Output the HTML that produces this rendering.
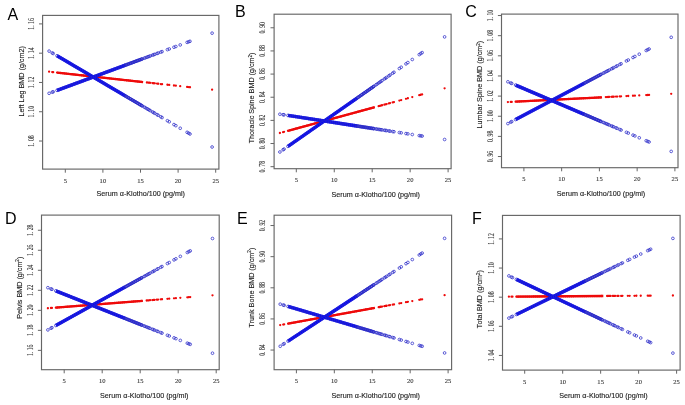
<!DOCTYPE html>
<html><head><meta charset="utf-8"><style>
html,body{margin:0;padding:0;background:#fff;width:685px;height:405px;overflow:hidden}
svg{display:block;filter:blur(0.4px)}
.t{font-family:"Liberation Serif", serif;font-size:7.2px;fill:#333;stroke:#333;stroke-width:.1px;white-space:pre}
.th{font-size:6.1px}
.ti{font-family:"Liberation Sans", sans-serif;font-size:7.2px;fill:#1a1a1a;stroke:#1a1a1a;stroke-width:.12px}
.L{font-family:"Liberation Sans", sans-serif;font-size:16px;fill:#000}
</style></head><body>
<svg width="685" height="405" viewBox="0 0 685 405">
<g><rect x="42.6" y="15.4" width="176.3" height="153.7" fill="none" stroke="#666" stroke-width="1.15"/><path d="M65.3 169.1v3.6M102.9 169.1v3.6M140.5 169.1v3.6M178.1 169.1v3.6M215.7 169.1v3.6M42.6 141.02h-3.6M42.6 111.74h-3.6M42.6 82.46h-3.6M42.6 53.18h-3.6M42.6 23.9h-3.6" stroke="#666" stroke-width="1" fill="none"/><text transform="translate(65.3 182.5) scale(1.08 1)" class="t th" text-anchor="middle">5</text><text transform="translate(102.9 182.5) scale(1.08 1)" class="t th" text-anchor="middle">10</text><text transform="translate(140.5 182.5) scale(1.08 1)" class="t th" text-anchor="middle">15</text><text transform="translate(178.1 182.5) scale(1.08 1)" class="t th" text-anchor="middle">20</text><text transform="translate(215.7 182.5) scale(1.08 1)" class="t th" text-anchor="middle">25</text><text transform="translate(33.8 141.02) rotate(-90) scale(0.8 1)" class="t" text-anchor="middle">1. 08</text><text transform="translate(33.8 111.74) rotate(-90) scale(0.8 1)" class="t" text-anchor="middle">1. 10</text><text transform="translate(33.8 82.46) rotate(-90) scale(0.8 1)" class="t" text-anchor="middle">1. 12</text><text transform="translate(33.8 53.18) rotate(-90) scale(0.8 1)" class="t" text-anchor="middle">1. 14</text><text transform="translate(33.8 23.9) rotate(-90) scale(0.8 1)" class="t" text-anchor="middle">1. 16</text><text x="140.8" y="196.1" class="ti" text-anchor="middle">Serum α-Klotho/100 (pg/ml)</text><text transform="translate(24 81.3) rotate(-90)" class="ti" text-anchor="middle">Left Leg BMD (g/cm2)</text><text x="7.6" y="20" class="L">A</text><line x1="57.03" y1="72.58" x2="143.13" y2="82.08" stroke="#ee0a0a" stroke-width="2.3"/><path d="M47.95 71.7a1.15 1.15 0 1 0 2.3 0a1.15 1.15 0 1 0-2.3 0M51.07 72.04a1.15 1.15 0 1 0 2.3 0a1.15 1.15 0 1 0-2.3 0M52.04 72.15a1.15 1.15 0 1 0 2.3 0a1.15 1.15 0 1 0-2.3 0M55.88 72.58a1.15 1.15 0 1 0 2.3 0a1.15 1.15 0 1 0-2.3 0M57.76 72.78a1.15 1.15 0 1 0 2.3 0a1.15 1.15 0 1 0-2.3 0M59.64 72.99a1.15 1.15 0 1 0 2.3 0a1.15 1.15 0 1 0-2.3 0M61.52 73.2a1.15 1.15 0 1 0 2.3 0a1.15 1.15 0 1 0-2.3 0M63.4 73.41a1.15 1.15 0 1 0 2.3 0a1.15 1.15 0 1 0-2.3 0M65.28 73.61a1.15 1.15 0 1 0 2.3 0a1.15 1.15 0 1 0-2.3 0M67.16 73.82a1.15 1.15 0 1 0 2.3 0a1.15 1.15 0 1 0-2.3 0M69.04 74.03a1.15 1.15 0 1 0 2.3 0a1.15 1.15 0 1 0-2.3 0M70.92 74.24a1.15 1.15 0 1 0 2.3 0a1.15 1.15 0 1 0-2.3 0M72.8 74.44a1.15 1.15 0 1 0 2.3 0a1.15 1.15 0 1 0-2.3 0M74.68 74.65a1.15 1.15 0 1 0 2.3 0a1.15 1.15 0 1 0-2.3 0M76.56 74.86a1.15 1.15 0 1 0 2.3 0a1.15 1.15 0 1 0-2.3 0M78.44 75.07a1.15 1.15 0 1 0 2.3 0a1.15 1.15 0 1 0-2.3 0M80.32 75.27a1.15 1.15 0 1 0 2.3 0a1.15 1.15 0 1 0-2.3 0M82.2 75.48a1.15 1.15 0 1 0 2.3 0a1.15 1.15 0 1 0-2.3 0M84.08 75.69a1.15 1.15 0 1 0 2.3 0a1.15 1.15 0 1 0-2.3 0M85.96 75.9a1.15 1.15 0 1 0 2.3 0a1.15 1.15 0 1 0-2.3 0M87.84 76.1a1.15 1.15 0 1 0 2.3 0a1.15 1.15 0 1 0-2.3 0M89.72 76.31a1.15 1.15 0 1 0 2.3 0a1.15 1.15 0 1 0-2.3 0M91.6 76.52a1.15 1.15 0 1 0 2.3 0a1.15 1.15 0 1 0-2.3 0M93.48 76.73a1.15 1.15 0 1 0 2.3 0a1.15 1.15 0 1 0-2.3 0M95.36 76.94a1.15 1.15 0 1 0 2.3 0a1.15 1.15 0 1 0-2.3 0M97.24 77.14a1.15 1.15 0 1 0 2.3 0a1.15 1.15 0 1 0-2.3 0M99.12 77.35a1.15 1.15 0 1 0 2.3 0a1.15 1.15 0 1 0-2.3 0M101 77.56a1.15 1.15 0 1 0 2.3 0a1.15 1.15 0 1 0-2.3 0M102.88 77.77a1.15 1.15 0 1 0 2.3 0a1.15 1.15 0 1 0-2.3 0M104.76 77.97a1.15 1.15 0 1 0 2.3 0a1.15 1.15 0 1 0-2.3 0M106.64 78.18a1.15 1.15 0 1 0 2.3 0a1.15 1.15 0 1 0-2.3 0M108.52 78.39a1.15 1.15 0 1 0 2.3 0a1.15 1.15 0 1 0-2.3 0M110.4 78.6a1.15 1.15 0 1 0 2.3 0a1.15 1.15 0 1 0-2.3 0M112.28 78.8a1.15 1.15 0 1 0 2.3 0a1.15 1.15 0 1 0-2.3 0M114.16 79.01a1.15 1.15 0 1 0 2.3 0a1.15 1.15 0 1 0-2.3 0M116.04 79.22a1.15 1.15 0 1 0 2.3 0a1.15 1.15 0 1 0-2.3 0M117.92 79.43a1.15 1.15 0 1 0 2.3 0a1.15 1.15 0 1 0-2.3 0M119.8 79.63a1.15 1.15 0 1 0 2.3 0a1.15 1.15 0 1 0-2.3 0M121.68 79.84a1.15 1.15 0 1 0 2.3 0a1.15 1.15 0 1 0-2.3 0M123.56 80.05a1.15 1.15 0 1 0 2.3 0a1.15 1.15 0 1 0-2.3 0M125.44 80.26a1.15 1.15 0 1 0 2.3 0a1.15 1.15 0 1 0-2.3 0M127.32 80.46a1.15 1.15 0 1 0 2.3 0a1.15 1.15 0 1 0-2.3 0M129.2 80.67a1.15 1.15 0 1 0 2.3 0a1.15 1.15 0 1 0-2.3 0M131.08 80.88a1.15 1.15 0 1 0 2.3 0a1.15 1.15 0 1 0-2.3 0M132.96 81.09a1.15 1.15 0 1 0 2.3 0a1.15 1.15 0 1 0-2.3 0M134.84 81.29a1.15 1.15 0 1 0 2.3 0a1.15 1.15 0 1 0-2.3 0M136.72 81.5a1.15 1.15 0 1 0 2.3 0a1.15 1.15 0 1 0-2.3 0M138.6 81.71a1.15 1.15 0 1 0 2.3 0a1.15 1.15 0 1 0-2.3 0M140.48 81.92a1.15 1.15 0 1 0 2.3 0a1.15 1.15 0 1 0-2.3 0M145.74 82.5a1.15 1.15 0 1 0 2.3 0a1.15 1.15 0 1 0-2.3 0M146.87 82.62a1.15 1.15 0 1 0 2.3 0a1.15 1.15 0 1 0-2.3 0M148 82.75a1.15 1.15 0 1 0 2.3 0a1.15 1.15 0 1 0-2.3 0M149.13 82.87a1.15 1.15 0 1 0 2.3 0a1.15 1.15 0 1 0-2.3 0M151.38 83.12a1.15 1.15 0 1 0 2.3 0a1.15 1.15 0 1 0-2.3 0M152.51 83.25a1.15 1.15 0 1 0 2.3 0a1.15 1.15 0 1 0-2.3 0M153.64 83.37a1.15 1.15 0 1 0 2.3 0a1.15 1.15 0 1 0-2.3 0M155.89 83.62a1.15 1.15 0 1 0 2.3 0a1.15 1.15 0 1 0-2.3 0M157.02 83.74a1.15 1.15 0 1 0 2.3 0a1.15 1.15 0 1 0-2.3 0M159.65 84.04a1.15 1.15 0 1 0 2.3 0a1.15 1.15 0 1 0-2.3 0M160.93 84.18a1.15 1.15 0 1 0 2.3 0a1.15 1.15 0 1 0-2.3 0M166.27 84.77a1.15 1.15 0 1 0 2.3 0a1.15 1.15 0 1 0-2.3 0M168.08 84.97a1.15 1.15 0 1 0 2.3 0a1.15 1.15 0 1 0-2.3 0M172.81 85.49a1.15 1.15 0 1 0 2.3 0a1.15 1.15 0 1 0-2.3 0M174.69 85.7a1.15 1.15 0 1 0 2.3 0a1.15 1.15 0 1 0-2.3 0M179.06 86.18a1.15 1.15 0 1 0 2.3 0a1.15 1.15 0 1 0-2.3 0M185.97 86.94a1.15 1.15 0 1 0 2.3 0a1.15 1.15 0 1 0-2.3 0M187.48 87.11a1.15 1.15 0 1 0 2.3 0a1.15 1.15 0 1 0-2.3 0M188.83 87.26a1.15 1.15 0 1 0 2.3 0a1.15 1.15 0 1 0-2.3 0M210.95 89.7a1.15 1.15 0 1 0 2.3 0a1.15 1.15 0 1 0-2.3 0" fill="#ee0a0a"/><line x1="57.03" y1="55.76" x2="125.46" y2="96.03" stroke="#0000ff" stroke-width="3.4"/><path d="M47.75 51.1a1.35 1.35 0 1 0 2.7 0a1.35 1.35 0 1 0-2.7 0M50.87 52.93a1.35 1.35 0 1 0 2.7 0a1.35 1.35 0 1 0-2.7 0M51.84 53.51a1.35 1.35 0 1 0 2.7 0a1.35 1.35 0 1 0-2.7 0M55.68 55.76a1.35 1.35 0 1 0 2.7 0a1.35 1.35 0 1 0-2.7 0M57.56 56.87a1.35 1.35 0 1 0 2.7 0a1.35 1.35 0 1 0-2.7 0M59.44 57.98a1.35 1.35 0 1 0 2.7 0a1.35 1.35 0 1 0-2.7 0M61.32 59.08a1.35 1.35 0 1 0 2.7 0a1.35 1.35 0 1 0-2.7 0M63.2 60.19a1.35 1.35 0 1 0 2.7 0a1.35 1.35 0 1 0-2.7 0M65.08 61.29a1.35 1.35 0 1 0 2.7 0a1.35 1.35 0 1 0-2.7 0M66.96 62.4a1.35 1.35 0 1 0 2.7 0a1.35 1.35 0 1 0-2.7 0M68.84 63.51a1.35 1.35 0 1 0 2.7 0a1.35 1.35 0 1 0-2.7 0M70.72 64.61a1.35 1.35 0 1 0 2.7 0a1.35 1.35 0 1 0-2.7 0M72.6 65.72a1.35 1.35 0 1 0 2.7 0a1.35 1.35 0 1 0-2.7 0M74.48 66.83a1.35 1.35 0 1 0 2.7 0a1.35 1.35 0 1 0-2.7 0M76.36 67.93a1.35 1.35 0 1 0 2.7 0a1.35 1.35 0 1 0-2.7 0M78.24 69.04a1.35 1.35 0 1 0 2.7 0a1.35 1.35 0 1 0-2.7 0M80.12 70.14a1.35 1.35 0 1 0 2.7 0a1.35 1.35 0 1 0-2.7 0M82 71.25a1.35 1.35 0 1 0 2.7 0a1.35 1.35 0 1 0-2.7 0M83.88 72.36a1.35 1.35 0 1 0 2.7 0a1.35 1.35 0 1 0-2.7 0M85.76 73.46a1.35 1.35 0 1 0 2.7 0a1.35 1.35 0 1 0-2.7 0M87.64 74.57a1.35 1.35 0 1 0 2.7 0a1.35 1.35 0 1 0-2.7 0M89.52 75.67a1.35 1.35 0 1 0 2.7 0a1.35 1.35 0 1 0-2.7 0M91.4 76.78a1.35 1.35 0 1 0 2.7 0a1.35 1.35 0 1 0-2.7 0M93.28 77.89a1.35 1.35 0 1 0 2.7 0a1.35 1.35 0 1 0-2.7 0M95.16 78.99a1.35 1.35 0 1 0 2.7 0a1.35 1.35 0 1 0-2.7 0M97.04 80.1a1.35 1.35 0 1 0 2.7 0a1.35 1.35 0 1 0-2.7 0M98.92 81.2a1.35 1.35 0 1 0 2.7 0a1.35 1.35 0 1 0-2.7 0M100.8 82.31a1.35 1.35 0 1 0 2.7 0a1.35 1.35 0 1 0-2.7 0M102.68 83.42a1.35 1.35 0 1 0 2.7 0a1.35 1.35 0 1 0-2.7 0M104.56 84.52a1.35 1.35 0 1 0 2.7 0a1.35 1.35 0 1 0-2.7 0M106.44 85.63a1.35 1.35 0 1 0 2.7 0a1.35 1.35 0 1 0-2.7 0M108.32 86.73a1.35 1.35 0 1 0 2.7 0a1.35 1.35 0 1 0-2.7 0M110.2 87.84a1.35 1.35 0 1 0 2.7 0a1.35 1.35 0 1 0-2.7 0M112.08 88.95a1.35 1.35 0 1 0 2.7 0a1.35 1.35 0 1 0-2.7 0M113.96 90.05a1.35 1.35 0 1 0 2.7 0a1.35 1.35 0 1 0-2.7 0M115.84 91.16a1.35 1.35 0 1 0 2.7 0a1.35 1.35 0 1 0-2.7 0M117.72 92.27a1.35 1.35 0 1 0 2.7 0a1.35 1.35 0 1 0-2.7 0M119.6 93.37a1.35 1.35 0 1 0 2.7 0a1.35 1.35 0 1 0-2.7 0M121.48 94.48a1.35 1.35 0 1 0 2.7 0a1.35 1.35 0 1 0-2.7 0M123.36 95.58a1.35 1.35 0 1 0 2.7 0a1.35 1.35 0 1 0-2.7 0M125.24 96.69a1.35 1.35 0 1 0 2.7 0a1.35 1.35 0 1 0-2.7 0M127.12 97.8a1.35 1.35 0 1 0 2.7 0a1.35 1.35 0 1 0-2.7 0M129 98.9a1.35 1.35 0 1 0 2.7 0a1.35 1.35 0 1 0-2.7 0M130.88 100.01a1.35 1.35 0 1 0 2.7 0a1.35 1.35 0 1 0-2.7 0M132.76 101.11a1.35 1.35 0 1 0 2.7 0a1.35 1.35 0 1 0-2.7 0M134.64 102.22a1.35 1.35 0 1 0 2.7 0a1.35 1.35 0 1 0-2.7 0M136.52 103.33a1.35 1.35 0 1 0 2.7 0a1.35 1.35 0 1 0-2.7 0M138.4 104.43a1.35 1.35 0 1 0 2.7 0a1.35 1.35 0 1 0-2.7 0M140.28 105.54a1.35 1.35 0 1 0 2.7 0a1.35 1.35 0 1 0-2.7 0M145.54 108.64a1.35 1.35 0 1 0 2.7 0a1.35 1.35 0 1 0-2.7 0M146.67 109.3a1.35 1.35 0 1 0 2.7 0a1.35 1.35 0 1 0-2.7 0M147.8 109.96a1.35 1.35 0 1 0 2.7 0a1.35 1.35 0 1 0-2.7 0M148.93 110.63a1.35 1.35 0 1 0 2.7 0a1.35 1.35 0 1 0-2.7 0M151.18 111.95a1.35 1.35 0 1 0 2.7 0a1.35 1.35 0 1 0-2.7 0M152.31 112.62a1.35 1.35 0 1 0 2.7 0a1.35 1.35 0 1 0-2.7 0M153.44 113.28a1.35 1.35 0 1 0 2.7 0a1.35 1.35 0 1 0-2.7 0M155.69 114.61a1.35 1.35 0 1 0 2.7 0a1.35 1.35 0 1 0-2.7 0M156.82 115.27a1.35 1.35 0 1 0 2.7 0a1.35 1.35 0 1 0-2.7 0M159.45 116.82a1.35 1.35 0 1 0 2.7 0a1.35 1.35 0 1 0-2.7 0M160.73 117.57a1.35 1.35 0 1 0 2.7 0a1.35 1.35 0 1 0-2.7 0M166.07 120.71a1.35 1.35 0 1 0 2.7 0a1.35 1.35 0 1 0-2.7 0M167.88 121.78a1.35 1.35 0 1 0 2.7 0a1.35 1.35 0 1 0-2.7 0M172.61 124.56a1.35 1.35 0 1 0 2.7 0a1.35 1.35 0 1 0-2.7 0M174.49 125.67a1.35 1.35 0 1 0 2.7 0a1.35 1.35 0 1 0-2.7 0M178.86 128.24a1.35 1.35 0 1 0 2.7 0a1.35 1.35 0 1 0-2.7 0M185.77 132.31a1.35 1.35 0 1 0 2.7 0a1.35 1.35 0 1 0-2.7 0M187.28 133.19a1.35 1.35 0 1 0 2.7 0a1.35 1.35 0 1 0-2.7 0M188.63 133.99a1.35 1.35 0 1 0 2.7 0a1.35 1.35 0 1 0-2.7 0M210.75 147a1.35 1.35 0 1 0 2.7 0a1.35 1.35 0 1 0-2.7 0M142.91 107.09a1.35 1.35 0 1 0 2.7 0a1.35 1.35 0 1 0-2.7 0M144.04 107.75a1.35 1.35 0 1 0 2.7 0a1.35 1.35 0 1 0-2.7 0M124.11 96.03a1.35 1.35 0 1 0 2.7 0a1.35 1.35 0 1 0-2.7 0M125.16 96.65a1.35 1.35 0 1 0 2.7 0a1.35 1.35 0 1 0-2.7 0M126.22 97.26a1.35 1.35 0 1 0 2.7 0a1.35 1.35 0 1 0-2.7 0M127.27 97.88a1.35 1.35 0 1 0 2.7 0a1.35 1.35 0 1 0-2.7 0M128.32 98.5a1.35 1.35 0 1 0 2.7 0a1.35 1.35 0 1 0-2.7 0M129.37 99.12a1.35 1.35 0 1 0 2.7 0a1.35 1.35 0 1 0-2.7 0M130.43 99.74a1.35 1.35 0 1 0 2.7 0a1.35 1.35 0 1 0-2.7 0M131.48 100.36a1.35 1.35 0 1 0 2.7 0a1.35 1.35 0 1 0-2.7 0M132.53 100.98a1.35 1.35 0 1 0 2.7 0a1.35 1.35 0 1 0-2.7 0M133.59 101.6a1.35 1.35 0 1 0 2.7 0a1.35 1.35 0 1 0-2.7 0M134.64 102.22a1.35 1.35 0 1 0 2.7 0a1.35 1.35 0 1 0-2.7 0M135.69 102.84a1.35 1.35 0 1 0 2.7 0a1.35 1.35 0 1 0-2.7 0M136.74 103.46a1.35 1.35 0 1 0 2.7 0a1.35 1.35 0 1 0-2.7 0M137.8 104.08a1.35 1.35 0 1 0 2.7 0a1.35 1.35 0 1 0-2.7 0M138.85 104.7a1.35 1.35 0 1 0 2.7 0a1.35 1.35 0 1 0-2.7 0M139.9 105.32a1.35 1.35 0 1 0 2.7 0a1.35 1.35 0 1 0-2.7 0M140.95 105.94a1.35 1.35 0 1 0 2.7 0a1.35 1.35 0 1 0-2.7 0" stroke="#2a2ac8" stroke-width=".75" fill="none"/><line x1="57.03" y1="90.37" x2="125.46" y2="65.12" stroke="#0000ff" stroke-width="3.4"/><path d="M47.75 93.3a1.35 1.35 0 1 0 2.7 0a1.35 1.35 0 1 0-2.7 0M50.87 92.15a1.35 1.35 0 1 0 2.7 0a1.35 1.35 0 1 0-2.7 0M51.84 91.79a1.35 1.35 0 1 0 2.7 0a1.35 1.35 0 1 0-2.7 0M55.68 90.37a1.35 1.35 0 1 0 2.7 0a1.35 1.35 0 1 0-2.7 0M57.56 89.68a1.35 1.35 0 1 0 2.7 0a1.35 1.35 0 1 0-2.7 0M59.44 88.99a1.35 1.35 0 1 0 2.7 0a1.35 1.35 0 1 0-2.7 0M61.32 88.29a1.35 1.35 0 1 0 2.7 0a1.35 1.35 0 1 0-2.7 0M63.2 87.6a1.35 1.35 0 1 0 2.7 0a1.35 1.35 0 1 0-2.7 0M65.08 86.91a1.35 1.35 0 1 0 2.7 0a1.35 1.35 0 1 0-2.7 0M66.96 86.21a1.35 1.35 0 1 0 2.7 0a1.35 1.35 0 1 0-2.7 0M68.84 85.52a1.35 1.35 0 1 0 2.7 0a1.35 1.35 0 1 0-2.7 0M70.72 84.82a1.35 1.35 0 1 0 2.7 0a1.35 1.35 0 1 0-2.7 0M72.6 84.13a1.35 1.35 0 1 0 2.7 0a1.35 1.35 0 1 0-2.7 0M74.48 83.44a1.35 1.35 0 1 0 2.7 0a1.35 1.35 0 1 0-2.7 0M76.36 82.74a1.35 1.35 0 1 0 2.7 0a1.35 1.35 0 1 0-2.7 0M78.24 82.05a1.35 1.35 0 1 0 2.7 0a1.35 1.35 0 1 0-2.7 0M80.12 81.36a1.35 1.35 0 1 0 2.7 0a1.35 1.35 0 1 0-2.7 0M82 80.66a1.35 1.35 0 1 0 2.7 0a1.35 1.35 0 1 0-2.7 0M83.88 79.97a1.35 1.35 0 1 0 2.7 0a1.35 1.35 0 1 0-2.7 0M85.76 79.27a1.35 1.35 0 1 0 2.7 0a1.35 1.35 0 1 0-2.7 0M87.64 78.58a1.35 1.35 0 1 0 2.7 0a1.35 1.35 0 1 0-2.7 0M89.52 77.89a1.35 1.35 0 1 0 2.7 0a1.35 1.35 0 1 0-2.7 0M91.4 77.19a1.35 1.35 0 1 0 2.7 0a1.35 1.35 0 1 0-2.7 0M93.28 76.5a1.35 1.35 0 1 0 2.7 0a1.35 1.35 0 1 0-2.7 0M95.16 75.81a1.35 1.35 0 1 0 2.7 0a1.35 1.35 0 1 0-2.7 0M97.04 75.11a1.35 1.35 0 1 0 2.7 0a1.35 1.35 0 1 0-2.7 0M98.92 74.42a1.35 1.35 0 1 0 2.7 0a1.35 1.35 0 1 0-2.7 0M100.8 73.72a1.35 1.35 0 1 0 2.7 0a1.35 1.35 0 1 0-2.7 0M102.68 73.03a1.35 1.35 0 1 0 2.7 0a1.35 1.35 0 1 0-2.7 0M104.56 72.34a1.35 1.35 0 1 0 2.7 0a1.35 1.35 0 1 0-2.7 0M106.44 71.64a1.35 1.35 0 1 0 2.7 0a1.35 1.35 0 1 0-2.7 0M108.32 70.95a1.35 1.35 0 1 0 2.7 0a1.35 1.35 0 1 0-2.7 0M110.2 70.26a1.35 1.35 0 1 0 2.7 0a1.35 1.35 0 1 0-2.7 0M112.08 69.56a1.35 1.35 0 1 0 2.7 0a1.35 1.35 0 1 0-2.7 0M113.96 68.87a1.35 1.35 0 1 0 2.7 0a1.35 1.35 0 1 0-2.7 0M115.84 68.17a1.35 1.35 0 1 0 2.7 0a1.35 1.35 0 1 0-2.7 0M117.72 67.48a1.35 1.35 0 1 0 2.7 0a1.35 1.35 0 1 0-2.7 0M119.6 66.79a1.35 1.35 0 1 0 2.7 0a1.35 1.35 0 1 0-2.7 0M121.48 66.09a1.35 1.35 0 1 0 2.7 0a1.35 1.35 0 1 0-2.7 0M123.36 65.4a1.35 1.35 0 1 0 2.7 0a1.35 1.35 0 1 0-2.7 0M125.24 64.71a1.35 1.35 0 1 0 2.7 0a1.35 1.35 0 1 0-2.7 0M127.12 64.01a1.35 1.35 0 1 0 2.7 0a1.35 1.35 0 1 0-2.7 0M129 63.32a1.35 1.35 0 1 0 2.7 0a1.35 1.35 0 1 0-2.7 0M130.88 62.62a1.35 1.35 0 1 0 2.7 0a1.35 1.35 0 1 0-2.7 0M132.76 61.93a1.35 1.35 0 1 0 2.7 0a1.35 1.35 0 1 0-2.7 0M134.64 61.24a1.35 1.35 0 1 0 2.7 0a1.35 1.35 0 1 0-2.7 0M136.52 60.54a1.35 1.35 0 1 0 2.7 0a1.35 1.35 0 1 0-2.7 0M138.4 59.85a1.35 1.35 0 1 0 2.7 0a1.35 1.35 0 1 0-2.7 0M140.28 59.16a1.35 1.35 0 1 0 2.7 0a1.35 1.35 0 1 0-2.7 0M145.54 57.21a1.35 1.35 0 1 0 2.7 0a1.35 1.35 0 1 0-2.7 0M146.67 56.8a1.35 1.35 0 1 0 2.7 0a1.35 1.35 0 1 0-2.7 0M147.8 56.38a1.35 1.35 0 1 0 2.7 0a1.35 1.35 0 1 0-2.7 0M148.93 55.96a1.35 1.35 0 1 0 2.7 0a1.35 1.35 0 1 0-2.7 0M151.18 55.13a1.35 1.35 0 1 0 2.7 0a1.35 1.35 0 1 0-2.7 0M152.31 54.72a1.35 1.35 0 1 0 2.7 0a1.35 1.35 0 1 0-2.7 0M153.44 54.3a1.35 1.35 0 1 0 2.7 0a1.35 1.35 0 1 0-2.7 0M155.69 53.47a1.35 1.35 0 1 0 2.7 0a1.35 1.35 0 1 0-2.7 0M156.82 53.05a1.35 1.35 0 1 0 2.7 0a1.35 1.35 0 1 0-2.7 0M159.45 52.08a1.35 1.35 0 1 0 2.7 0a1.35 1.35 0 1 0-2.7 0M160.73 51.61a1.35 1.35 0 1 0 2.7 0a1.35 1.35 0 1 0-2.7 0M166.07 49.64a1.35 1.35 0 1 0 2.7 0a1.35 1.35 0 1 0-2.7 0M167.88 48.97a1.35 1.35 0 1 0 2.7 0a1.35 1.35 0 1 0-2.7 0M172.61 47.22a1.35 1.35 0 1 0 2.7 0a1.35 1.35 0 1 0-2.7 0M174.49 46.53a1.35 1.35 0 1 0 2.7 0a1.35 1.35 0 1 0-2.7 0M178.86 44.92a1.35 1.35 0 1 0 2.7 0a1.35 1.35 0 1 0-2.7 0M185.77 42.37a1.35 1.35 0 1 0 2.7 0a1.35 1.35 0 1 0-2.7 0M187.28 41.81a1.35 1.35 0 1 0 2.7 0a1.35 1.35 0 1 0-2.7 0M188.63 41.31a1.35 1.35 0 1 0 2.7 0a1.35 1.35 0 1 0-2.7 0M210.75 33.15a1.35 1.35 0 1 0 2.7 0a1.35 1.35 0 1 0-2.7 0M142.91 58.18a1.35 1.35 0 1 0 2.7 0a1.35 1.35 0 1 0-2.7 0M144.04 57.77a1.35 1.35 0 1 0 2.7 0a1.35 1.35 0 1 0-2.7 0M124.11 65.12a1.35 1.35 0 1 0 2.7 0a1.35 1.35 0 1 0-2.7 0M125.16 64.73a1.35 1.35 0 1 0 2.7 0a1.35 1.35 0 1 0-2.7 0M126.22 64.34a1.35 1.35 0 1 0 2.7 0a1.35 1.35 0 1 0-2.7 0M127.27 63.96a1.35 1.35 0 1 0 2.7 0a1.35 1.35 0 1 0-2.7 0M128.32 63.57a1.35 1.35 0 1 0 2.7 0a1.35 1.35 0 1 0-2.7 0M129.37 63.18a1.35 1.35 0 1 0 2.7 0a1.35 1.35 0 1 0-2.7 0M130.43 62.79a1.35 1.35 0 1 0 2.7 0a1.35 1.35 0 1 0-2.7 0M131.48 62.4a1.35 1.35 0 1 0 2.7 0a1.35 1.35 0 1 0-2.7 0M132.53 62.01a1.35 1.35 0 1 0 2.7 0a1.35 1.35 0 1 0-2.7 0M133.59 61.63a1.35 1.35 0 1 0 2.7 0a1.35 1.35 0 1 0-2.7 0M134.64 61.24a1.35 1.35 0 1 0 2.7 0a1.35 1.35 0 1 0-2.7 0M135.69 60.85a1.35 1.35 0 1 0 2.7 0a1.35 1.35 0 1 0-2.7 0M136.74 60.46a1.35 1.35 0 1 0 2.7 0a1.35 1.35 0 1 0-2.7 0M137.8 60.07a1.35 1.35 0 1 0 2.7 0a1.35 1.35 0 1 0-2.7 0M138.85 59.68a1.35 1.35 0 1 0 2.7 0a1.35 1.35 0 1 0-2.7 0M139.9 59.29a1.35 1.35 0 1 0 2.7 0a1.35 1.35 0 1 0-2.7 0M140.95 58.91a1.35 1.35 0 1 0 2.7 0a1.35 1.35 0 1 0-2.7 0" stroke="#2a2ac8" stroke-width=".75" fill="none"/></g>
<g><rect x="274.1" y="14.2" width="177" height="154.5" fill="none" stroke="#666" stroke-width="1.15"/><path d="M296.3 168.7v3.6M334.25 168.7v3.6M372.2 168.7v3.6M410.15 168.7v3.6M448.1 168.7v3.6M274.1 166.68h-3.6M274.1 143.53h-3.6M274.1 120.38h-3.6M274.1 97.23h-3.6M274.1 74.08h-3.6M274.1 50.93h-3.6M274.1 27.78h-3.6" stroke="#666" stroke-width="1" fill="none"/><text transform="translate(296.3 182.1) scale(1.08 1)" class="t th" text-anchor="middle">5</text><text transform="translate(334.25 182.1) scale(1.08 1)" class="t th" text-anchor="middle">10</text><text transform="translate(372.2 182.1) scale(1.08 1)" class="t th" text-anchor="middle">15</text><text transform="translate(410.15 182.1) scale(1.08 1)" class="t th" text-anchor="middle">20</text><text transform="translate(448.1 182.1) scale(1.08 1)" class="t th" text-anchor="middle">25</text><text transform="translate(265.3 166.68) rotate(-90) scale(0.8 1)" class="t" text-anchor="middle">0. 78</text><text transform="translate(265.3 143.53) rotate(-90) scale(0.8 1)" class="t" text-anchor="middle">0. 80</text><text transform="translate(265.3 120.38) rotate(-90) scale(0.8 1)" class="t" text-anchor="middle">0. 82</text><text transform="translate(265.3 97.23) rotate(-90) scale(0.8 1)" class="t" text-anchor="middle">0. 84</text><text transform="translate(265.3 74.08) rotate(-90) scale(0.8 1)" class="t" text-anchor="middle">0. 86</text><text transform="translate(265.3 50.93) rotate(-90) scale(0.8 1)" class="t" text-anchor="middle">0. 88</text><text transform="translate(265.3 27.78) rotate(-90) scale(0.8 1)" class="t" text-anchor="middle">0. 90</text><text x="375.8" y="196.7" class="ti" text-anchor="middle">Serum α-Klotho/100 (pg/ml)</text><text transform="translate(254.3 97.9) rotate(-90)" class="ti" text-anchor="middle">Thoracic Spine BMD (g/cm<tspan dy="-2.6" font-size="4.6">2</tspan><tspan dy="2.6">)</tspan></text><text x="235" y="16.5" class="L">B</text><line x1="287.95" y1="130.81" x2="374.86" y2="107.23" stroke="#ee0a0a" stroke-width="2.3"/><path d="M278.75 133a1.15 1.15 0 1 0 2.3 0a1.15 1.15 0 1 0-2.3 0M281.94 132.13a1.15 1.15 0 1 0 2.3 0a1.15 1.15 0 1 0-2.3 0M282.93 131.87a1.15 1.15 0 1 0 2.3 0a1.15 1.15 0 1 0-2.3 0M286.8 130.81a1.15 1.15 0 1 0 2.3 0a1.15 1.15 0 1 0-2.3 0M288.7 130.3a1.15 1.15 0 1 0 2.3 0a1.15 1.15 0 1 0-2.3 0M290.6 129.78a1.15 1.15 0 1 0 2.3 0a1.15 1.15 0 1 0-2.3 0M292.49 129.27a1.15 1.15 0 1 0 2.3 0a1.15 1.15 0 1 0-2.3 0M294.39 128.75a1.15 1.15 0 1 0 2.3 0a1.15 1.15 0 1 0-2.3 0M296.29 128.24a1.15 1.15 0 1 0 2.3 0a1.15 1.15 0 1 0-2.3 0M298.19 127.73a1.15 1.15 0 1 0 2.3 0a1.15 1.15 0 1 0-2.3 0M300.08 127.21a1.15 1.15 0 1 0 2.3 0a1.15 1.15 0 1 0-2.3 0M301.98 126.7a1.15 1.15 0 1 0 2.3 0a1.15 1.15 0 1 0-2.3 0M303.88 126.18a1.15 1.15 0 1 0 2.3 0a1.15 1.15 0 1 0-2.3 0M305.78 125.67a1.15 1.15 0 1 0 2.3 0a1.15 1.15 0 1 0-2.3 0M307.67 125.15a1.15 1.15 0 1 0 2.3 0a1.15 1.15 0 1 0-2.3 0M309.57 124.64a1.15 1.15 0 1 0 2.3 0a1.15 1.15 0 1 0-2.3 0M311.47 124.12a1.15 1.15 0 1 0 2.3 0a1.15 1.15 0 1 0-2.3 0M313.37 123.61a1.15 1.15 0 1 0 2.3 0a1.15 1.15 0 1 0-2.3 0M315.26 123.09a1.15 1.15 0 1 0 2.3 0a1.15 1.15 0 1 0-2.3 0M317.16 122.58a1.15 1.15 0 1 0 2.3 0a1.15 1.15 0 1 0-2.3 0M319.06 122.06a1.15 1.15 0 1 0 2.3 0a1.15 1.15 0 1 0-2.3 0M320.96 121.55a1.15 1.15 0 1 0 2.3 0a1.15 1.15 0 1 0-2.3 0M322.85 121.03a1.15 1.15 0 1 0 2.3 0a1.15 1.15 0 1 0-2.3 0M324.75 120.52a1.15 1.15 0 1 0 2.3 0a1.15 1.15 0 1 0-2.3 0M326.65 120a1.15 1.15 0 1 0 2.3 0a1.15 1.15 0 1 0-2.3 0M328.55 119.49a1.15 1.15 0 1 0 2.3 0a1.15 1.15 0 1 0-2.3 0M330.44 118.97a1.15 1.15 0 1 0 2.3 0a1.15 1.15 0 1 0-2.3 0M332.34 118.46a1.15 1.15 0 1 0 2.3 0a1.15 1.15 0 1 0-2.3 0M334.24 117.94a1.15 1.15 0 1 0 2.3 0a1.15 1.15 0 1 0-2.3 0M336.14 117.43a1.15 1.15 0 1 0 2.3 0a1.15 1.15 0 1 0-2.3 0M338.03 116.91a1.15 1.15 0 1 0 2.3 0a1.15 1.15 0 1 0-2.3 0M339.93 116.4a1.15 1.15 0 1 0 2.3 0a1.15 1.15 0 1 0-2.3 0M341.83 115.88a1.15 1.15 0 1 0 2.3 0a1.15 1.15 0 1 0-2.3 0M343.73 115.37a1.15 1.15 0 1 0 2.3 0a1.15 1.15 0 1 0-2.3 0M345.62 114.85a1.15 1.15 0 1 0 2.3 0a1.15 1.15 0 1 0-2.3 0M347.52 114.34a1.15 1.15 0 1 0 2.3 0a1.15 1.15 0 1 0-2.3 0M349.42 113.82a1.15 1.15 0 1 0 2.3 0a1.15 1.15 0 1 0-2.3 0M351.32 113.31a1.15 1.15 0 1 0 2.3 0a1.15 1.15 0 1 0-2.3 0M353.21 112.79a1.15 1.15 0 1 0 2.3 0a1.15 1.15 0 1 0-2.3 0M355.11 112.28a1.15 1.15 0 1 0 2.3 0a1.15 1.15 0 1 0-2.3 0M357.01 111.76a1.15 1.15 0 1 0 2.3 0a1.15 1.15 0 1 0-2.3 0M358.91 111.25a1.15 1.15 0 1 0 2.3 0a1.15 1.15 0 1 0-2.3 0M360.8 110.73a1.15 1.15 0 1 0 2.3 0a1.15 1.15 0 1 0-2.3 0M362.7 110.22a1.15 1.15 0 1 0 2.3 0a1.15 1.15 0 1 0-2.3 0M364.6 109.7a1.15 1.15 0 1 0 2.3 0a1.15 1.15 0 1 0-2.3 0M366.5 109.19a1.15 1.15 0 1 0 2.3 0a1.15 1.15 0 1 0-2.3 0M368.39 108.67a1.15 1.15 0 1 0 2.3 0a1.15 1.15 0 1 0-2.3 0M370.29 108.16a1.15 1.15 0 1 0 2.3 0a1.15 1.15 0 1 0-2.3 0M372.19 107.64a1.15 1.15 0 1 0 2.3 0a1.15 1.15 0 1 0-2.3 0M377.5 106.2a1.15 1.15 0 1 0 2.3 0a1.15 1.15 0 1 0-2.3 0M378.64 105.89a1.15 1.15 0 1 0 2.3 0a1.15 1.15 0 1 0-2.3 0M379.78 105.58a1.15 1.15 0 1 0 2.3 0a1.15 1.15 0 1 0-2.3 0M380.92 105.27a1.15 1.15 0 1 0 2.3 0a1.15 1.15 0 1 0-2.3 0M383.19 104.65a1.15 1.15 0 1 0 2.3 0a1.15 1.15 0 1 0-2.3 0M384.33 104.34a1.15 1.15 0 1 0 2.3 0a1.15 1.15 0 1 0-2.3 0M385.47 104.04a1.15 1.15 0 1 0 2.3 0a1.15 1.15 0 1 0-2.3 0M387.75 103.42a1.15 1.15 0 1 0 2.3 0a1.15 1.15 0 1 0-2.3 0M388.89 103.11a1.15 1.15 0 1 0 2.3 0a1.15 1.15 0 1 0-2.3 0M391.54 102.39a1.15 1.15 0 1 0 2.3 0a1.15 1.15 0 1 0-2.3 0M392.83 102.04a1.15 1.15 0 1 0 2.3 0a1.15 1.15 0 1 0-2.3 0M398.22 100.57a1.15 1.15 0 1 0 2.3 0a1.15 1.15 0 1 0-2.3 0M400.04 100.08a1.15 1.15 0 1 0 2.3 0a1.15 1.15 0 1 0-2.3 0M404.83 98.78a1.15 1.15 0 1 0 2.3 0a1.15 1.15 0 1 0-2.3 0M406.72 98.27a1.15 1.15 0 1 0 2.3 0a1.15 1.15 0 1 0-2.3 0M411.13 97.07a1.15 1.15 0 1 0 2.3 0a1.15 1.15 0 1 0-2.3 0M418.11 95.18a1.15 1.15 0 1 0 2.3 0a1.15 1.15 0 1 0-2.3 0M419.63 94.77a1.15 1.15 0 1 0 2.3 0a1.15 1.15 0 1 0-2.3 0M420.99 94.4a1.15 1.15 0 1 0 2.3 0a1.15 1.15 0 1 0-2.3 0M443.45 88.3a1.15 1.15 0 1 0 2.3 0a1.15 1.15 0 1 0-2.3 0" fill="#ee0a0a"/><line x1="287.95" y1="115.44" x2="357.02" y2="126.05" stroke="#0000ff" stroke-width="3.4"/><path d="M278.55 114.2a1.35 1.35 0 1 0 2.7 0a1.35 1.35 0 1 0-2.7 0M281.74 114.69a1.35 1.35 0 1 0 2.7 0a1.35 1.35 0 1 0-2.7 0M282.73 114.84a1.35 1.35 0 1 0 2.7 0a1.35 1.35 0 1 0-2.7 0M286.6 115.44a1.35 1.35 0 1 0 2.7 0a1.35 1.35 0 1 0-2.7 0M288.5 115.73a1.35 1.35 0 1 0 2.7 0a1.35 1.35 0 1 0-2.7 0M290.4 116.02a1.35 1.35 0 1 0 2.7 0a1.35 1.35 0 1 0-2.7 0M292.29 116.31a1.35 1.35 0 1 0 2.7 0a1.35 1.35 0 1 0-2.7 0M294.19 116.6a1.35 1.35 0 1 0 2.7 0a1.35 1.35 0 1 0-2.7 0M296.09 116.89a1.35 1.35 0 1 0 2.7 0a1.35 1.35 0 1 0-2.7 0M297.99 117.19a1.35 1.35 0 1 0 2.7 0a1.35 1.35 0 1 0-2.7 0M299.88 117.48a1.35 1.35 0 1 0 2.7 0a1.35 1.35 0 1 0-2.7 0M301.78 117.77a1.35 1.35 0 1 0 2.7 0a1.35 1.35 0 1 0-2.7 0M303.68 118.06a1.35 1.35 0 1 0 2.7 0a1.35 1.35 0 1 0-2.7 0M305.58 118.35a1.35 1.35 0 1 0 2.7 0a1.35 1.35 0 1 0-2.7 0M307.47 118.64a1.35 1.35 0 1 0 2.7 0a1.35 1.35 0 1 0-2.7 0M309.37 118.93a1.35 1.35 0 1 0 2.7 0a1.35 1.35 0 1 0-2.7 0M311.27 119.23a1.35 1.35 0 1 0 2.7 0a1.35 1.35 0 1 0-2.7 0M313.17 119.52a1.35 1.35 0 1 0 2.7 0a1.35 1.35 0 1 0-2.7 0M315.06 119.81a1.35 1.35 0 1 0 2.7 0a1.35 1.35 0 1 0-2.7 0M316.96 120.1a1.35 1.35 0 1 0 2.7 0a1.35 1.35 0 1 0-2.7 0M318.86 120.39a1.35 1.35 0 1 0 2.7 0a1.35 1.35 0 1 0-2.7 0M320.76 120.68a1.35 1.35 0 1 0 2.7 0a1.35 1.35 0 1 0-2.7 0M322.65 120.97a1.35 1.35 0 1 0 2.7 0a1.35 1.35 0 1 0-2.7 0M324.55 121.27a1.35 1.35 0 1 0 2.7 0a1.35 1.35 0 1 0-2.7 0M326.45 121.56a1.35 1.35 0 1 0 2.7 0a1.35 1.35 0 1 0-2.7 0M328.35 121.85a1.35 1.35 0 1 0 2.7 0a1.35 1.35 0 1 0-2.7 0M330.24 122.14a1.35 1.35 0 1 0 2.7 0a1.35 1.35 0 1 0-2.7 0M332.14 122.43a1.35 1.35 0 1 0 2.7 0a1.35 1.35 0 1 0-2.7 0M334.04 122.72a1.35 1.35 0 1 0 2.7 0a1.35 1.35 0 1 0-2.7 0M335.94 123.02a1.35 1.35 0 1 0 2.7 0a1.35 1.35 0 1 0-2.7 0M337.83 123.31a1.35 1.35 0 1 0 2.7 0a1.35 1.35 0 1 0-2.7 0M339.73 123.6a1.35 1.35 0 1 0 2.7 0a1.35 1.35 0 1 0-2.7 0M341.63 123.89a1.35 1.35 0 1 0 2.7 0a1.35 1.35 0 1 0-2.7 0M343.53 124.18a1.35 1.35 0 1 0 2.7 0a1.35 1.35 0 1 0-2.7 0M345.42 124.47a1.35 1.35 0 1 0 2.7 0a1.35 1.35 0 1 0-2.7 0M347.32 124.76a1.35 1.35 0 1 0 2.7 0a1.35 1.35 0 1 0-2.7 0M349.22 125.06a1.35 1.35 0 1 0 2.7 0a1.35 1.35 0 1 0-2.7 0M351.12 125.35a1.35 1.35 0 1 0 2.7 0a1.35 1.35 0 1 0-2.7 0M353.01 125.64a1.35 1.35 0 1 0 2.7 0a1.35 1.35 0 1 0-2.7 0M354.91 125.93a1.35 1.35 0 1 0 2.7 0a1.35 1.35 0 1 0-2.7 0M356.81 126.22a1.35 1.35 0 1 0 2.7 0a1.35 1.35 0 1 0-2.7 0M358.71 126.51a1.35 1.35 0 1 0 2.7 0a1.35 1.35 0 1 0-2.7 0M360.6 126.8a1.35 1.35 0 1 0 2.7 0a1.35 1.35 0 1 0-2.7 0M362.5 127.1a1.35 1.35 0 1 0 2.7 0a1.35 1.35 0 1 0-2.7 0M364.4 127.39a1.35 1.35 0 1 0 2.7 0a1.35 1.35 0 1 0-2.7 0M366.3 127.68a1.35 1.35 0 1 0 2.7 0a1.35 1.35 0 1 0-2.7 0M368.19 127.97a1.35 1.35 0 1 0 2.7 0a1.35 1.35 0 1 0-2.7 0M370.09 128.26a1.35 1.35 0 1 0 2.7 0a1.35 1.35 0 1 0-2.7 0M371.99 128.55a1.35 1.35 0 1 0 2.7 0a1.35 1.35 0 1 0-2.7 0M377.3 129.37a1.35 1.35 0 1 0 2.7 0a1.35 1.35 0 1 0-2.7 0M378.44 129.54a1.35 1.35 0 1 0 2.7 0a1.35 1.35 0 1 0-2.7 0M379.58 129.72a1.35 1.35 0 1 0 2.7 0a1.35 1.35 0 1 0-2.7 0M380.72 129.89a1.35 1.35 0 1 0 2.7 0a1.35 1.35 0 1 0-2.7 0M382.99 130.24a1.35 1.35 0 1 0 2.7 0a1.35 1.35 0 1 0-2.7 0M384.13 130.42a1.35 1.35 0 1 0 2.7 0a1.35 1.35 0 1 0-2.7 0M385.27 130.59a1.35 1.35 0 1 0 2.7 0a1.35 1.35 0 1 0-2.7 0M387.55 130.94a1.35 1.35 0 1 0 2.7 0a1.35 1.35 0 1 0-2.7 0M388.69 131.12a1.35 1.35 0 1 0 2.7 0a1.35 1.35 0 1 0-2.7 0M391.34 131.53a1.35 1.35 0 1 0 2.7 0a1.35 1.35 0 1 0-2.7 0M392.63 131.72a1.35 1.35 0 1 0 2.7 0a1.35 1.35 0 1 0-2.7 0M398.02 132.55a1.35 1.35 0 1 0 2.7 0a1.35 1.35 0 1 0-2.7 0M399.84 132.83a1.35 1.35 0 1 0 2.7 0a1.35 1.35 0 1 0-2.7 0M404.63 133.57a1.35 1.35 0 1 0 2.7 0a1.35 1.35 0 1 0-2.7 0M406.52 133.86a1.35 1.35 0 1 0 2.7 0a1.35 1.35 0 1 0-2.7 0M410.93 134.53a1.35 1.35 0 1 0 2.7 0a1.35 1.35 0 1 0-2.7 0M417.91 135.61a1.35 1.35 0 1 0 2.7 0a1.35 1.35 0 1 0-2.7 0M419.43 135.84a1.35 1.35 0 1 0 2.7 0a1.35 1.35 0 1 0-2.7 0M420.79 136.05a1.35 1.35 0 1 0 2.7 0a1.35 1.35 0 1 0-2.7 0M443.25 139.5a1.35 1.35 0 1 0 2.7 0a1.35 1.35 0 1 0-2.7 0M374.64 128.96a1.35 1.35 0 1 0 2.7 0a1.35 1.35 0 1 0-2.7 0M375.78 129.14a1.35 1.35 0 1 0 2.7 0a1.35 1.35 0 1 0-2.7 0M355.67 126.05a1.35 1.35 0 1 0 2.7 0a1.35 1.35 0 1 0-2.7 0M356.73 126.21a1.35 1.35 0 1 0 2.7 0a1.35 1.35 0 1 0-2.7 0M357.8 126.37a1.35 1.35 0 1 0 2.7 0a1.35 1.35 0 1 0-2.7 0M358.86 126.54a1.35 1.35 0 1 0 2.7 0a1.35 1.35 0 1 0-2.7 0M359.92 126.7a1.35 1.35 0 1 0 2.7 0a1.35 1.35 0 1 0-2.7 0M360.98 126.86a1.35 1.35 0 1 0 2.7 0a1.35 1.35 0 1 0-2.7 0M362.05 127.03a1.35 1.35 0 1 0 2.7 0a1.35 1.35 0 1 0-2.7 0M363.11 127.19a1.35 1.35 0 1 0 2.7 0a1.35 1.35 0 1 0-2.7 0M364.17 127.35a1.35 1.35 0 1 0 2.7 0a1.35 1.35 0 1 0-2.7 0M365.23 127.52a1.35 1.35 0 1 0 2.7 0a1.35 1.35 0 1 0-2.7 0M366.3 127.68a1.35 1.35 0 1 0 2.7 0a1.35 1.35 0 1 0-2.7 0M367.36 127.84a1.35 1.35 0 1 0 2.7 0a1.35 1.35 0 1 0-2.7 0M368.42 128.01a1.35 1.35 0 1 0 2.7 0a1.35 1.35 0 1 0-2.7 0M369.48 128.17a1.35 1.35 0 1 0 2.7 0a1.35 1.35 0 1 0-2.7 0M370.55 128.33a1.35 1.35 0 1 0 2.7 0a1.35 1.35 0 1 0-2.7 0M371.61 128.5a1.35 1.35 0 1 0 2.7 0a1.35 1.35 0 1 0-2.7 0M372.67 128.66a1.35 1.35 0 1 0 2.7 0a1.35 1.35 0 1 0-2.7 0" stroke="#2a2ac8" stroke-width=".75" fill="none"/><line x1="287.95" y1="146.37" x2="357.02" y2="98.1" stroke="#0000ff" stroke-width="3.4"/><path d="M278.55 152a1.35 1.35 0 1 0 2.7 0a1.35 1.35 0 1 0-2.7 0M281.74 149.77a1.35 1.35 0 1 0 2.7 0a1.35 1.35 0 1 0-2.7 0M282.73 149.08a1.35 1.35 0 1 0 2.7 0a1.35 1.35 0 1 0-2.7 0M286.6 146.37a1.35 1.35 0 1 0 2.7 0a1.35 1.35 0 1 0-2.7 0M288.5 145.05a1.35 1.35 0 1 0 2.7 0a1.35 1.35 0 1 0-2.7 0M290.4 143.72a1.35 1.35 0 1 0 2.7 0a1.35 1.35 0 1 0-2.7 0M292.29 142.4a1.35 1.35 0 1 0 2.7 0a1.35 1.35 0 1 0-2.7 0M294.19 141.07a1.35 1.35 0 1 0 2.7 0a1.35 1.35 0 1 0-2.7 0M296.09 139.74a1.35 1.35 0 1 0 2.7 0a1.35 1.35 0 1 0-2.7 0M297.99 138.42a1.35 1.35 0 1 0 2.7 0a1.35 1.35 0 1 0-2.7 0M299.88 137.09a1.35 1.35 0 1 0 2.7 0a1.35 1.35 0 1 0-2.7 0M301.78 135.77a1.35 1.35 0 1 0 2.7 0a1.35 1.35 0 1 0-2.7 0M303.68 134.44a1.35 1.35 0 1 0 2.7 0a1.35 1.35 0 1 0-2.7 0M305.58 133.11a1.35 1.35 0 1 0 2.7 0a1.35 1.35 0 1 0-2.7 0M307.47 131.79a1.35 1.35 0 1 0 2.7 0a1.35 1.35 0 1 0-2.7 0M309.37 130.46a1.35 1.35 0 1 0 2.7 0a1.35 1.35 0 1 0-2.7 0M311.27 129.13a1.35 1.35 0 1 0 2.7 0a1.35 1.35 0 1 0-2.7 0M313.17 127.81a1.35 1.35 0 1 0 2.7 0a1.35 1.35 0 1 0-2.7 0M315.06 126.48a1.35 1.35 0 1 0 2.7 0a1.35 1.35 0 1 0-2.7 0M316.96 125.16a1.35 1.35 0 1 0 2.7 0a1.35 1.35 0 1 0-2.7 0M318.86 123.83a1.35 1.35 0 1 0 2.7 0a1.35 1.35 0 1 0-2.7 0M320.76 122.5a1.35 1.35 0 1 0 2.7 0a1.35 1.35 0 1 0-2.7 0M322.65 121.18a1.35 1.35 0 1 0 2.7 0a1.35 1.35 0 1 0-2.7 0M324.55 119.85a1.35 1.35 0 1 0 2.7 0a1.35 1.35 0 1 0-2.7 0M326.45 118.53a1.35 1.35 0 1 0 2.7 0a1.35 1.35 0 1 0-2.7 0M328.35 117.2a1.35 1.35 0 1 0 2.7 0a1.35 1.35 0 1 0-2.7 0M330.24 115.87a1.35 1.35 0 1 0 2.7 0a1.35 1.35 0 1 0-2.7 0M332.14 114.55a1.35 1.35 0 1 0 2.7 0a1.35 1.35 0 1 0-2.7 0M334.04 113.22a1.35 1.35 0 1 0 2.7 0a1.35 1.35 0 1 0-2.7 0M335.94 111.9a1.35 1.35 0 1 0 2.7 0a1.35 1.35 0 1 0-2.7 0M337.83 110.57a1.35 1.35 0 1 0 2.7 0a1.35 1.35 0 1 0-2.7 0M339.73 109.24a1.35 1.35 0 1 0 2.7 0a1.35 1.35 0 1 0-2.7 0M341.63 107.92a1.35 1.35 0 1 0 2.7 0a1.35 1.35 0 1 0-2.7 0M343.53 106.59a1.35 1.35 0 1 0 2.7 0a1.35 1.35 0 1 0-2.7 0M345.42 105.27a1.35 1.35 0 1 0 2.7 0a1.35 1.35 0 1 0-2.7 0M347.32 103.94a1.35 1.35 0 1 0 2.7 0a1.35 1.35 0 1 0-2.7 0M349.22 102.61a1.35 1.35 0 1 0 2.7 0a1.35 1.35 0 1 0-2.7 0M351.12 101.29a1.35 1.35 0 1 0 2.7 0a1.35 1.35 0 1 0-2.7 0M353.01 99.96a1.35 1.35 0 1 0 2.7 0a1.35 1.35 0 1 0-2.7 0M354.91 98.64a1.35 1.35 0 1 0 2.7 0a1.35 1.35 0 1 0-2.7 0M356.81 97.31a1.35 1.35 0 1 0 2.7 0a1.35 1.35 0 1 0-2.7 0M358.71 95.98a1.35 1.35 0 1 0 2.7 0a1.35 1.35 0 1 0-2.7 0M360.6 94.66a1.35 1.35 0 1 0 2.7 0a1.35 1.35 0 1 0-2.7 0M362.5 93.33a1.35 1.35 0 1 0 2.7 0a1.35 1.35 0 1 0-2.7 0M364.4 92.01a1.35 1.35 0 1 0 2.7 0a1.35 1.35 0 1 0-2.7 0M366.3 90.68a1.35 1.35 0 1 0 2.7 0a1.35 1.35 0 1 0-2.7 0M368.19 89.35a1.35 1.35 0 1 0 2.7 0a1.35 1.35 0 1 0-2.7 0M370.09 88.03a1.35 1.35 0 1 0 2.7 0a1.35 1.35 0 1 0-2.7 0M371.99 86.7a1.35 1.35 0 1 0 2.7 0a1.35 1.35 0 1 0-2.7 0M377.3 82.99a1.35 1.35 0 1 0 2.7 0a1.35 1.35 0 1 0-2.7 0M378.44 82.19a1.35 1.35 0 1 0 2.7 0a1.35 1.35 0 1 0-2.7 0M379.58 81.4a1.35 1.35 0 1 0 2.7 0a1.35 1.35 0 1 0-2.7 0M380.72 80.6a1.35 1.35 0 1 0 2.7 0a1.35 1.35 0 1 0-2.7 0M382.99 79.01a1.35 1.35 0 1 0 2.7 0a1.35 1.35 0 1 0-2.7 0M384.13 78.21a1.35 1.35 0 1 0 2.7 0a1.35 1.35 0 1 0-2.7 0M385.27 77.42a1.35 1.35 0 1 0 2.7 0a1.35 1.35 0 1 0-2.7 0M387.55 75.83a1.35 1.35 0 1 0 2.7 0a1.35 1.35 0 1 0-2.7 0M388.69 75.03a1.35 1.35 0 1 0 2.7 0a1.35 1.35 0 1 0-2.7 0M391.34 73.18a1.35 1.35 0 1 0 2.7 0a1.35 1.35 0 1 0-2.7 0M392.63 72.27a1.35 1.35 0 1 0 2.7 0a1.35 1.35 0 1 0-2.7 0M398.02 68.51a1.35 1.35 0 1 0 2.7 0a1.35 1.35 0 1 0-2.7 0M399.84 67.23a1.35 1.35 0 1 0 2.7 0a1.35 1.35 0 1 0-2.7 0M404.63 63.89a1.35 1.35 0 1 0 2.7 0a1.35 1.35 0 1 0-2.7 0M406.52 62.57a1.35 1.35 0 1 0 2.7 0a1.35 1.35 0 1 0-2.7 0M410.93 59.49a1.35 1.35 0 1 0 2.7 0a1.35 1.35 0 1 0-2.7 0M417.91 54.61a1.35 1.35 0 1 0 2.7 0a1.35 1.35 0 1 0-2.7 0M419.43 53.55a1.35 1.35 0 1 0 2.7 0a1.35 1.35 0 1 0-2.7 0M420.79 52.59a1.35 1.35 0 1 0 2.7 0a1.35 1.35 0 1 0-2.7 0M443.25 36.9a1.35 1.35 0 1 0 2.7 0a1.35 1.35 0 1 0-2.7 0M374.64 84.84a1.35 1.35 0 1 0 2.7 0a1.35 1.35 0 1 0-2.7 0M375.78 84.05a1.35 1.35 0 1 0 2.7 0a1.35 1.35 0 1 0-2.7 0M355.67 98.1a1.35 1.35 0 1 0 2.7 0a1.35 1.35 0 1 0-2.7 0M356.73 97.36a1.35 1.35 0 1 0 2.7 0a1.35 1.35 0 1 0-2.7 0M357.8 96.62a1.35 1.35 0 1 0 2.7 0a1.35 1.35 0 1 0-2.7 0M358.86 95.88a1.35 1.35 0 1 0 2.7 0a1.35 1.35 0 1 0-2.7 0M359.92 95.13a1.35 1.35 0 1 0 2.7 0a1.35 1.35 0 1 0-2.7 0M360.98 94.39a1.35 1.35 0 1 0 2.7 0a1.35 1.35 0 1 0-2.7 0M362.05 93.65a1.35 1.35 0 1 0 2.7 0a1.35 1.35 0 1 0-2.7 0M363.11 92.91a1.35 1.35 0 1 0 2.7 0a1.35 1.35 0 1 0-2.7 0M364.17 92.16a1.35 1.35 0 1 0 2.7 0a1.35 1.35 0 1 0-2.7 0M365.23 91.42a1.35 1.35 0 1 0 2.7 0a1.35 1.35 0 1 0-2.7 0M366.3 90.68a1.35 1.35 0 1 0 2.7 0a1.35 1.35 0 1 0-2.7 0M367.36 89.94a1.35 1.35 0 1 0 2.7 0a1.35 1.35 0 1 0-2.7 0M368.42 89.19a1.35 1.35 0 1 0 2.7 0a1.35 1.35 0 1 0-2.7 0M369.48 88.45a1.35 1.35 0 1 0 2.7 0a1.35 1.35 0 1 0-2.7 0M370.55 87.71a1.35 1.35 0 1 0 2.7 0a1.35 1.35 0 1 0-2.7 0M371.61 86.97a1.35 1.35 0 1 0 2.7 0a1.35 1.35 0 1 0-2.7 0M372.67 86.22a1.35 1.35 0 1 0 2.7 0a1.35 1.35 0 1 0-2.7 0" stroke="#2a2ac8" stroke-width=".75" fill="none"/></g>
<g><rect x="501.5" y="14.1" width="176.5" height="153.6" fill="none" stroke="#666" stroke-width="1.15"/><path d="M523.9 167.7v3.6M561.65 167.7v3.6M599.4 167.7v3.6M637.15 167.7v3.6M674.9 167.7v3.6M501.5 156.52h-3.6M501.5 136.38h-3.6M501.5 116.24h-3.6M501.5 96.1h-3.6M501.5 75.96h-3.6M501.5 55.82h-3.6M501.5 35.68h-3.6M501.5 15.54h-3.6" stroke="#666" stroke-width="1" fill="none"/><text transform="translate(523.9 181.1) scale(1.08 1)" class="t th" text-anchor="middle">5</text><text transform="translate(561.65 181.1) scale(1.08 1)" class="t th" text-anchor="middle">10</text><text transform="translate(599.4 181.1) scale(1.08 1)" class="t th" text-anchor="middle">15</text><text transform="translate(637.15 181.1) scale(1.08 1)" class="t th" text-anchor="middle">20</text><text transform="translate(674.9 181.1) scale(1.08 1)" class="t th" text-anchor="middle">25</text><text transform="translate(492.7 156.52) rotate(-90) scale(0.8 1)" class="t" text-anchor="middle">0. 96</text><text transform="translate(492.7 136.38) rotate(-90) scale(0.8 1)" class="t" text-anchor="middle">0. 98</text><text transform="translate(492.7 116.24) rotate(-90) scale(0.8 1)" class="t" text-anchor="middle">1. 00</text><text transform="translate(492.7 96.1) rotate(-90) scale(0.8 1)" class="t" text-anchor="middle">1. 02</text><text transform="translate(492.7 75.96) rotate(-90) scale(0.8 1)" class="t" text-anchor="middle">1. 04</text><text transform="translate(492.7 55.82) rotate(-90) scale(0.8 1)" class="t" text-anchor="middle">1. 06</text><text transform="translate(492.7 35.68) rotate(-90) scale(0.8 1)" class="t" text-anchor="middle">1. 08</text><text transform="translate(492.7 15.54) rotate(-90) scale(0.8 1)" class="t" text-anchor="middle">1. 10</text><text x="601" y="196.2" class="ti" text-anchor="middle">Serum α-Klotho/100 (pg/ml)</text><text transform="translate(482.3 84.6) rotate(-90)" class="ti" text-anchor="middle">Lumbar Spine BMD (g/cm<tspan dy="-2.6" font-size="4.6">2</tspan><tspan dy="2.6">)</tspan></text><text x="465.3" y="16.5" class="L">C</text><line x1="515.6" y1="101.71" x2="602.04" y2="97.32" stroke="#ee0a0a" stroke-width="2.3"/><path d="M506.75 102.1a1.15 1.15 0 1 0 2.3 0a1.15 1.15 0 1 0-2.3 0M509.61 101.95a1.15 1.15 0 1 0 2.3 0a1.15 1.15 0 1 0-2.3 0M510.59 101.9a1.15 1.15 0 1 0 2.3 0a1.15 1.15 0 1 0-2.3 0M514.45 101.71a1.15 1.15 0 1 0 2.3 0a1.15 1.15 0 1 0-2.3 0M516.33 101.61a1.15 1.15 0 1 0 2.3 0a1.15 1.15 0 1 0-2.3 0M518.22 101.52a1.15 1.15 0 1 0 2.3 0a1.15 1.15 0 1 0-2.3 0M520.11 101.42a1.15 1.15 0 1 0 2.3 0a1.15 1.15 0 1 0-2.3 0M522 101.33a1.15 1.15 0 1 0 2.3 0a1.15 1.15 0 1 0-2.3 0M523.88 101.23a1.15 1.15 0 1 0 2.3 0a1.15 1.15 0 1 0-2.3 0M525.77 101.13a1.15 1.15 0 1 0 2.3 0a1.15 1.15 0 1 0-2.3 0M527.66 101.04a1.15 1.15 0 1 0 2.3 0a1.15 1.15 0 1 0-2.3 0M529.54 100.94a1.15 1.15 0 1 0 2.3 0a1.15 1.15 0 1 0-2.3 0M531.43 100.85a1.15 1.15 0 1 0 2.3 0a1.15 1.15 0 1 0-2.3 0M533.32 100.75a1.15 1.15 0 1 0 2.3 0a1.15 1.15 0 1 0-2.3 0M535.21 100.65a1.15 1.15 0 1 0 2.3 0a1.15 1.15 0 1 0-2.3 0M537.1 100.56a1.15 1.15 0 1 0 2.3 0a1.15 1.15 0 1 0-2.3 0M538.98 100.46a1.15 1.15 0 1 0 2.3 0a1.15 1.15 0 1 0-2.3 0M540.87 100.37a1.15 1.15 0 1 0 2.3 0a1.15 1.15 0 1 0-2.3 0M542.76 100.27a1.15 1.15 0 1 0 2.3 0a1.15 1.15 0 1 0-2.3 0M544.64 100.17a1.15 1.15 0 1 0 2.3 0a1.15 1.15 0 1 0-2.3 0M546.53 100.08a1.15 1.15 0 1 0 2.3 0a1.15 1.15 0 1 0-2.3 0M548.42 99.98a1.15 1.15 0 1 0 2.3 0a1.15 1.15 0 1 0-2.3 0M550.31 99.89a1.15 1.15 0 1 0 2.3 0a1.15 1.15 0 1 0-2.3 0M552.2 99.79a1.15 1.15 0 1 0 2.3 0a1.15 1.15 0 1 0-2.3 0M554.08 99.69a1.15 1.15 0 1 0 2.3 0a1.15 1.15 0 1 0-2.3 0M555.97 99.6a1.15 1.15 0 1 0 2.3 0a1.15 1.15 0 1 0-2.3 0M557.86 99.5a1.15 1.15 0 1 0 2.3 0a1.15 1.15 0 1 0-2.3 0M559.75 99.41a1.15 1.15 0 1 0 2.3 0a1.15 1.15 0 1 0-2.3 0M561.63 99.31a1.15 1.15 0 1 0 2.3 0a1.15 1.15 0 1 0-2.3 0M563.52 99.21a1.15 1.15 0 1 0 2.3 0a1.15 1.15 0 1 0-2.3 0M565.41 99.12a1.15 1.15 0 1 0 2.3 0a1.15 1.15 0 1 0-2.3 0M567.29 99.02a1.15 1.15 0 1 0 2.3 0a1.15 1.15 0 1 0-2.3 0M569.18 98.93a1.15 1.15 0 1 0 2.3 0a1.15 1.15 0 1 0-2.3 0M571.07 98.83a1.15 1.15 0 1 0 2.3 0a1.15 1.15 0 1 0-2.3 0M572.96 98.73a1.15 1.15 0 1 0 2.3 0a1.15 1.15 0 1 0-2.3 0M574.85 98.64a1.15 1.15 0 1 0 2.3 0a1.15 1.15 0 1 0-2.3 0M576.73 98.54a1.15 1.15 0 1 0 2.3 0a1.15 1.15 0 1 0-2.3 0M578.62 98.45a1.15 1.15 0 1 0 2.3 0a1.15 1.15 0 1 0-2.3 0M580.51 98.35a1.15 1.15 0 1 0 2.3 0a1.15 1.15 0 1 0-2.3 0M582.39 98.26a1.15 1.15 0 1 0 2.3 0a1.15 1.15 0 1 0-2.3 0M584.28 98.16a1.15 1.15 0 1 0 2.3 0a1.15 1.15 0 1 0-2.3 0M586.17 98.06a1.15 1.15 0 1 0 2.3 0a1.15 1.15 0 1 0-2.3 0M588.06 97.97a1.15 1.15 0 1 0 2.3 0a1.15 1.15 0 1 0-2.3 0M589.95 97.87a1.15 1.15 0 1 0 2.3 0a1.15 1.15 0 1 0-2.3 0M591.83 97.78a1.15 1.15 0 1 0 2.3 0a1.15 1.15 0 1 0-2.3 0M593.72 97.68a1.15 1.15 0 1 0 2.3 0a1.15 1.15 0 1 0-2.3 0M595.61 97.58a1.15 1.15 0 1 0 2.3 0a1.15 1.15 0 1 0-2.3 0M597.5 97.49a1.15 1.15 0 1 0 2.3 0a1.15 1.15 0 1 0-2.3 0M599.38 97.39a1.15 1.15 0 1 0 2.3 0a1.15 1.15 0 1 0-2.3 0M604.67 97.12a1.15 1.15 0 1 0 2.3 0a1.15 1.15 0 1 0-2.3 0M605.8 97.07a1.15 1.15 0 1 0 2.3 0a1.15 1.15 0 1 0-2.3 0M606.93 97.01a1.15 1.15 0 1 0 2.3 0a1.15 1.15 0 1 0-2.3 0M608.06 96.95a1.15 1.15 0 1 0 2.3 0a1.15 1.15 0 1 0-2.3 0M610.33 96.84a1.15 1.15 0 1 0 2.3 0a1.15 1.15 0 1 0-2.3 0M611.46 96.78a1.15 1.15 0 1 0 2.3 0a1.15 1.15 0 1 0-2.3 0M612.6 96.72a1.15 1.15 0 1 0 2.3 0a1.15 1.15 0 1 0-2.3 0M614.86 96.61a1.15 1.15 0 1 0 2.3 0a1.15 1.15 0 1 0-2.3 0M615.99 96.55a1.15 1.15 0 1 0 2.3 0a1.15 1.15 0 1 0-2.3 0M618.63 96.41a1.15 1.15 0 1 0 2.3 0a1.15 1.15 0 1 0-2.3 0M619.92 96.35a1.15 1.15 0 1 0 2.3 0a1.15 1.15 0 1 0-2.3 0M625.28 96.08a1.15 1.15 0 1 0 2.3 0a1.15 1.15 0 1 0-2.3 0M627.09 95.98a1.15 1.15 0 1 0 2.3 0a1.15 1.15 0 1 0-2.3 0M631.85 95.74a1.15 1.15 0 1 0 2.3 0a1.15 1.15 0 1 0-2.3 0M633.74 95.65a1.15 1.15 0 1 0 2.3 0a1.15 1.15 0 1 0-2.3 0M638.11 95.42a1.15 1.15 0 1 0 2.3 0a1.15 1.15 0 1 0-2.3 0M645.06 95.07a1.15 1.15 0 1 0 2.3 0a1.15 1.15 0 1 0-2.3 0M646.57 94.99a1.15 1.15 0 1 0 2.3 0a1.15 1.15 0 1 0-2.3 0M647.93 94.92a1.15 1.15 0 1 0 2.3 0a1.15 1.15 0 1 0-2.3 0M670.05 93.8a1.15 1.15 0 1 0 2.3 0a1.15 1.15 0 1 0-2.3 0" fill="#ee0a0a"/><line x1="515.6" y1="85.08" x2="584.3" y2="114.36" stroke="#0000ff" stroke-width="3.4"/><path d="M506.55 81.8a1.35 1.35 0 1 0 2.7 0a1.35 1.35 0 1 0-2.7 0M509.41 83.02a1.35 1.35 0 1 0 2.7 0a1.35 1.35 0 1 0-2.7 0M510.39 83.44a1.35 1.35 0 1 0 2.7 0a1.35 1.35 0 1 0-2.7 0M514.25 85.08a1.35 1.35 0 1 0 2.7 0a1.35 1.35 0 1 0-2.7 0M516.13 85.88a1.35 1.35 0 1 0 2.7 0a1.35 1.35 0 1 0-2.7 0M518.02 86.69a1.35 1.35 0 1 0 2.7 0a1.35 1.35 0 1 0-2.7 0M519.91 87.49a1.35 1.35 0 1 0 2.7 0a1.35 1.35 0 1 0-2.7 0M521.79 88.3a1.35 1.35 0 1 0 2.7 0a1.35 1.35 0 1 0-2.7 0M523.68 89.1a1.35 1.35 0 1 0 2.7 0a1.35 1.35 0 1 0-2.7 0M525.57 89.91a1.35 1.35 0 1 0 2.7 0a1.35 1.35 0 1 0-2.7 0M527.46 90.71a1.35 1.35 0 1 0 2.7 0a1.35 1.35 0 1 0-2.7 0M529.34 91.52a1.35 1.35 0 1 0 2.7 0a1.35 1.35 0 1 0-2.7 0M531.23 92.32a1.35 1.35 0 1 0 2.7 0a1.35 1.35 0 1 0-2.7 0M533.12 93.12a1.35 1.35 0 1 0 2.7 0a1.35 1.35 0 1 0-2.7 0M535.01 93.93a1.35 1.35 0 1 0 2.7 0a1.35 1.35 0 1 0-2.7 0M536.89 94.73a1.35 1.35 0 1 0 2.7 0a1.35 1.35 0 1 0-2.7 0M538.78 95.54a1.35 1.35 0 1 0 2.7 0a1.35 1.35 0 1 0-2.7 0M540.67 96.34a1.35 1.35 0 1 0 2.7 0a1.35 1.35 0 1 0-2.7 0M542.56 97.15a1.35 1.35 0 1 0 2.7 0a1.35 1.35 0 1 0-2.7 0M544.44 97.95a1.35 1.35 0 1 0 2.7 0a1.35 1.35 0 1 0-2.7 0M546.33 98.76a1.35 1.35 0 1 0 2.7 0a1.35 1.35 0 1 0-2.7 0M548.22 99.56a1.35 1.35 0 1 0 2.7 0a1.35 1.35 0 1 0-2.7 0M550.11 100.36a1.35 1.35 0 1 0 2.7 0a1.35 1.35 0 1 0-2.7 0M552 101.17a1.35 1.35 0 1 0 2.7 0a1.35 1.35 0 1 0-2.7 0M553.88 101.97a1.35 1.35 0 1 0 2.7 0a1.35 1.35 0 1 0-2.7 0M555.77 102.78a1.35 1.35 0 1 0 2.7 0a1.35 1.35 0 1 0-2.7 0M557.66 103.58a1.35 1.35 0 1 0 2.7 0a1.35 1.35 0 1 0-2.7 0M559.54 104.39a1.35 1.35 0 1 0 2.7 0a1.35 1.35 0 1 0-2.7 0M561.43 105.19a1.35 1.35 0 1 0 2.7 0a1.35 1.35 0 1 0-2.7 0M563.32 106a1.35 1.35 0 1 0 2.7 0a1.35 1.35 0 1 0-2.7 0M565.21 106.8a1.35 1.35 0 1 0 2.7 0a1.35 1.35 0 1 0-2.7 0M567.09 107.6a1.35 1.35 0 1 0 2.7 0a1.35 1.35 0 1 0-2.7 0M568.98 108.41a1.35 1.35 0 1 0 2.7 0a1.35 1.35 0 1 0-2.7 0M570.87 109.21a1.35 1.35 0 1 0 2.7 0a1.35 1.35 0 1 0-2.7 0M572.76 110.02a1.35 1.35 0 1 0 2.7 0a1.35 1.35 0 1 0-2.7 0M574.64 110.82a1.35 1.35 0 1 0 2.7 0a1.35 1.35 0 1 0-2.7 0M576.53 111.63a1.35 1.35 0 1 0 2.7 0a1.35 1.35 0 1 0-2.7 0M578.42 112.43a1.35 1.35 0 1 0 2.7 0a1.35 1.35 0 1 0-2.7 0M580.31 113.24a1.35 1.35 0 1 0 2.7 0a1.35 1.35 0 1 0-2.7 0M582.19 114.04a1.35 1.35 0 1 0 2.7 0a1.35 1.35 0 1 0-2.7 0M584.08 114.85a1.35 1.35 0 1 0 2.7 0a1.35 1.35 0 1 0-2.7 0M585.97 115.65a1.35 1.35 0 1 0 2.7 0a1.35 1.35 0 1 0-2.7 0M587.86 116.45a1.35 1.35 0 1 0 2.7 0a1.35 1.35 0 1 0-2.7 0M589.75 117.26a1.35 1.35 0 1 0 2.7 0a1.35 1.35 0 1 0-2.7 0M591.63 118.06a1.35 1.35 0 1 0 2.7 0a1.35 1.35 0 1 0-2.7 0M593.52 118.87a1.35 1.35 0 1 0 2.7 0a1.35 1.35 0 1 0-2.7 0M595.41 119.67a1.35 1.35 0 1 0 2.7 0a1.35 1.35 0 1 0-2.7 0M597.29 120.48a1.35 1.35 0 1 0 2.7 0a1.35 1.35 0 1 0-2.7 0M599.18 121.28a1.35 1.35 0 1 0 2.7 0a1.35 1.35 0 1 0-2.7 0M604.47 123.53a1.35 1.35 0 1 0 2.7 0a1.35 1.35 0 1 0-2.7 0M605.6 124.02a1.35 1.35 0 1 0 2.7 0a1.35 1.35 0 1 0-2.7 0M606.73 124.5a1.35 1.35 0 1 0 2.7 0a1.35 1.35 0 1 0-2.7 0M607.86 124.98a1.35 1.35 0 1 0 2.7 0a1.35 1.35 0 1 0-2.7 0M610.13 125.95a1.35 1.35 0 1 0 2.7 0a1.35 1.35 0 1 0-2.7 0M611.26 126.43a1.35 1.35 0 1 0 2.7 0a1.35 1.35 0 1 0-2.7 0M612.39 126.91a1.35 1.35 0 1 0 2.7 0a1.35 1.35 0 1 0-2.7 0M614.66 127.88a1.35 1.35 0 1 0 2.7 0a1.35 1.35 0 1 0-2.7 0M615.79 128.36a1.35 1.35 0 1 0 2.7 0a1.35 1.35 0 1 0-2.7 0M618.43 129.49a1.35 1.35 0 1 0 2.7 0a1.35 1.35 0 1 0-2.7 0M619.72 130.03a1.35 1.35 0 1 0 2.7 0a1.35 1.35 0 1 0-2.7 0M625.08 132.32a1.35 1.35 0 1 0 2.7 0a1.35 1.35 0 1 0-2.7 0M626.89 133.09a1.35 1.35 0 1 0 2.7 0a1.35 1.35 0 1 0-2.7 0M631.65 135.12a1.35 1.35 0 1 0 2.7 0a1.35 1.35 0 1 0-2.7 0M633.53 135.92a1.35 1.35 0 1 0 2.7 0a1.35 1.35 0 1 0-2.7 0M637.91 137.79a1.35 1.35 0 1 0 2.7 0a1.35 1.35 0 1 0-2.7 0M644.86 140.75a1.35 1.35 0 1 0 2.7 0a1.35 1.35 0 1 0-2.7 0M646.37 141.39a1.35 1.35 0 1 0 2.7 0a1.35 1.35 0 1 0-2.7 0M647.73 141.97a1.35 1.35 0 1 0 2.7 0a1.35 1.35 0 1 0-2.7 0M669.85 151.4a1.35 1.35 0 1 0 2.7 0a1.35 1.35 0 1 0-2.7 0M601.82 122.41a1.35 1.35 0 1 0 2.7 0a1.35 1.35 0 1 0-2.7 0M602.96 122.89a1.35 1.35 0 1 0 2.7 0a1.35 1.35 0 1 0-2.7 0M582.95 114.36a1.35 1.35 0 1 0 2.7 0a1.35 1.35 0 1 0-2.7 0M584.01 114.81a1.35 1.35 0 1 0 2.7 0a1.35 1.35 0 1 0-2.7 0M585.06 115.26a1.35 1.35 0 1 0 2.7 0a1.35 1.35 0 1 0-2.7 0M586.12 115.71a1.35 1.35 0 1 0 2.7 0a1.35 1.35 0 1 0-2.7 0M587.18 116.16a1.35 1.35 0 1 0 2.7 0a1.35 1.35 0 1 0-2.7 0M588.23 116.61a1.35 1.35 0 1 0 2.7 0a1.35 1.35 0 1 0-2.7 0M589.29 117.07a1.35 1.35 0 1 0 2.7 0a1.35 1.35 0 1 0-2.7 0M590.35 117.52a1.35 1.35 0 1 0 2.7 0a1.35 1.35 0 1 0-2.7 0M591.41 117.97a1.35 1.35 0 1 0 2.7 0a1.35 1.35 0 1 0-2.7 0M592.46 118.42a1.35 1.35 0 1 0 2.7 0a1.35 1.35 0 1 0-2.7 0M593.52 118.87a1.35 1.35 0 1 0 2.7 0a1.35 1.35 0 1 0-2.7 0M594.58 119.32a1.35 1.35 0 1 0 2.7 0a1.35 1.35 0 1 0-2.7 0M595.63 119.77a1.35 1.35 0 1 0 2.7 0a1.35 1.35 0 1 0-2.7 0M596.69 120.22a1.35 1.35 0 1 0 2.7 0a1.35 1.35 0 1 0-2.7 0M597.75 120.67a1.35 1.35 0 1 0 2.7 0a1.35 1.35 0 1 0-2.7 0M598.8 121.12a1.35 1.35 0 1 0 2.7 0a1.35 1.35 0 1 0-2.7 0M599.86 121.57a1.35 1.35 0 1 0 2.7 0a1.35 1.35 0 1 0-2.7 0" stroke="#2a2ac8" stroke-width=".75" fill="none"/><line x1="515.6" y1="119.53" x2="584.3" y2="83.22" stroke="#0000ff" stroke-width="3.4"/><path d="M506.55 123.6a1.35 1.35 0 1 0 2.7 0a1.35 1.35 0 1 0-2.7 0M509.41 122.09a1.35 1.35 0 1 0 2.7 0a1.35 1.35 0 1 0-2.7 0M510.39 121.57a1.35 1.35 0 1 0 2.7 0a1.35 1.35 0 1 0-2.7 0M514.25 119.53a1.35 1.35 0 1 0 2.7 0a1.35 1.35 0 1 0-2.7 0M516.13 118.54a1.35 1.35 0 1 0 2.7 0a1.35 1.35 0 1 0-2.7 0M518.02 117.54a1.35 1.35 0 1 0 2.7 0a1.35 1.35 0 1 0-2.7 0M519.91 116.54a1.35 1.35 0 1 0 2.7 0a1.35 1.35 0 1 0-2.7 0M521.79 115.54a1.35 1.35 0 1 0 2.7 0a1.35 1.35 0 1 0-2.7 0M523.68 114.55a1.35 1.35 0 1 0 2.7 0a1.35 1.35 0 1 0-2.7 0M525.57 113.55a1.35 1.35 0 1 0 2.7 0a1.35 1.35 0 1 0-2.7 0M527.46 112.55a1.35 1.35 0 1 0 2.7 0a1.35 1.35 0 1 0-2.7 0M529.34 111.55a1.35 1.35 0 1 0 2.7 0a1.35 1.35 0 1 0-2.7 0M531.23 110.56a1.35 1.35 0 1 0 2.7 0a1.35 1.35 0 1 0-2.7 0M533.12 109.56a1.35 1.35 0 1 0 2.7 0a1.35 1.35 0 1 0-2.7 0M535.01 108.56a1.35 1.35 0 1 0 2.7 0a1.35 1.35 0 1 0-2.7 0M536.89 107.56a1.35 1.35 0 1 0 2.7 0a1.35 1.35 0 1 0-2.7 0M538.78 106.57a1.35 1.35 0 1 0 2.7 0a1.35 1.35 0 1 0-2.7 0M540.67 105.57a1.35 1.35 0 1 0 2.7 0a1.35 1.35 0 1 0-2.7 0M542.56 104.57a1.35 1.35 0 1 0 2.7 0a1.35 1.35 0 1 0-2.7 0M544.44 103.57a1.35 1.35 0 1 0 2.7 0a1.35 1.35 0 1 0-2.7 0M546.33 102.58a1.35 1.35 0 1 0 2.7 0a1.35 1.35 0 1 0-2.7 0M548.22 101.58a1.35 1.35 0 1 0 2.7 0a1.35 1.35 0 1 0-2.7 0M550.11 100.58a1.35 1.35 0 1 0 2.7 0a1.35 1.35 0 1 0-2.7 0M552 99.58a1.35 1.35 0 1 0 2.7 0a1.35 1.35 0 1 0-2.7 0M553.88 98.59a1.35 1.35 0 1 0 2.7 0a1.35 1.35 0 1 0-2.7 0M555.77 97.59a1.35 1.35 0 1 0 2.7 0a1.35 1.35 0 1 0-2.7 0M557.66 96.59a1.35 1.35 0 1 0 2.7 0a1.35 1.35 0 1 0-2.7 0M559.54 95.59a1.35 1.35 0 1 0 2.7 0a1.35 1.35 0 1 0-2.7 0M561.43 94.6a1.35 1.35 0 1 0 2.7 0a1.35 1.35 0 1 0-2.7 0M563.32 93.6a1.35 1.35 0 1 0 2.7 0a1.35 1.35 0 1 0-2.7 0M565.21 92.6a1.35 1.35 0 1 0 2.7 0a1.35 1.35 0 1 0-2.7 0M567.09 91.6a1.35 1.35 0 1 0 2.7 0a1.35 1.35 0 1 0-2.7 0M568.98 90.61a1.35 1.35 0 1 0 2.7 0a1.35 1.35 0 1 0-2.7 0M570.87 89.61a1.35 1.35 0 1 0 2.7 0a1.35 1.35 0 1 0-2.7 0M572.76 88.61a1.35 1.35 0 1 0 2.7 0a1.35 1.35 0 1 0-2.7 0M574.64 87.61a1.35 1.35 0 1 0 2.7 0a1.35 1.35 0 1 0-2.7 0M576.53 86.62a1.35 1.35 0 1 0 2.7 0a1.35 1.35 0 1 0-2.7 0M578.42 85.62a1.35 1.35 0 1 0 2.7 0a1.35 1.35 0 1 0-2.7 0M580.31 84.62a1.35 1.35 0 1 0 2.7 0a1.35 1.35 0 1 0-2.7 0M582.19 83.62a1.35 1.35 0 1 0 2.7 0a1.35 1.35 0 1 0-2.7 0M584.08 82.63a1.35 1.35 0 1 0 2.7 0a1.35 1.35 0 1 0-2.7 0M585.97 81.63a1.35 1.35 0 1 0 2.7 0a1.35 1.35 0 1 0-2.7 0M587.86 80.63a1.35 1.35 0 1 0 2.7 0a1.35 1.35 0 1 0-2.7 0M589.75 79.63a1.35 1.35 0 1 0 2.7 0a1.35 1.35 0 1 0-2.7 0M591.63 78.64a1.35 1.35 0 1 0 2.7 0a1.35 1.35 0 1 0-2.7 0M593.52 77.64a1.35 1.35 0 1 0 2.7 0a1.35 1.35 0 1 0-2.7 0M595.41 76.64a1.35 1.35 0 1 0 2.7 0a1.35 1.35 0 1 0-2.7 0M597.29 75.64a1.35 1.35 0 1 0 2.7 0a1.35 1.35 0 1 0-2.7 0M599.18 74.65a1.35 1.35 0 1 0 2.7 0a1.35 1.35 0 1 0-2.7 0M604.47 71.85a1.35 1.35 0 1 0 2.7 0a1.35 1.35 0 1 0-2.7 0M605.6 71.25a1.35 1.35 0 1 0 2.7 0a1.35 1.35 0 1 0-2.7 0M606.73 70.66a1.35 1.35 0 1 0 2.7 0a1.35 1.35 0 1 0-2.7 0M607.86 70.06a1.35 1.35 0 1 0 2.7 0a1.35 1.35 0 1 0-2.7 0M610.13 68.86a1.35 1.35 0 1 0 2.7 0a1.35 1.35 0 1 0-2.7 0M611.26 68.26a1.35 1.35 0 1 0 2.7 0a1.35 1.35 0 1 0-2.7 0M612.39 67.66a1.35 1.35 0 1 0 2.7 0a1.35 1.35 0 1 0-2.7 0M614.66 66.47a1.35 1.35 0 1 0 2.7 0a1.35 1.35 0 1 0-2.7 0M615.79 65.87a1.35 1.35 0 1 0 2.7 0a1.35 1.35 0 1 0-2.7 0M618.43 64.47a1.35 1.35 0 1 0 2.7 0a1.35 1.35 0 1 0-2.7 0M619.72 63.79a1.35 1.35 0 1 0 2.7 0a1.35 1.35 0 1 0-2.7 0M625.08 60.96a1.35 1.35 0 1 0 2.7 0a1.35 1.35 0 1 0-2.7 0M626.89 60a1.35 1.35 0 1 0 2.7 0a1.35 1.35 0 1 0-2.7 0M631.65 57.49a1.35 1.35 0 1 0 2.7 0a1.35 1.35 0 1 0-2.7 0M633.53 56.49a1.35 1.35 0 1 0 2.7 0a1.35 1.35 0 1 0-2.7 0M637.91 54.18a1.35 1.35 0 1 0 2.7 0a1.35 1.35 0 1 0-2.7 0M644.86 50.51a1.35 1.35 0 1 0 2.7 0a1.35 1.35 0 1 0-2.7 0M646.37 49.71a1.35 1.35 0 1 0 2.7 0a1.35 1.35 0 1 0-2.7 0M647.73 48.99a1.35 1.35 0 1 0 2.7 0a1.35 1.35 0 1 0-2.7 0M669.85 37.3a1.35 1.35 0 1 0 2.7 0a1.35 1.35 0 1 0-2.7 0M601.82 73.25a1.35 1.35 0 1 0 2.7 0a1.35 1.35 0 1 0-2.7 0M602.96 72.65a1.35 1.35 0 1 0 2.7 0a1.35 1.35 0 1 0-2.7 0M582.95 83.22a1.35 1.35 0 1 0 2.7 0a1.35 1.35 0 1 0-2.7 0M584.01 82.67a1.35 1.35 0 1 0 2.7 0a1.35 1.35 0 1 0-2.7 0M585.06 82.11a1.35 1.35 0 1 0 2.7 0a1.35 1.35 0 1 0-2.7 0M586.12 81.55a1.35 1.35 0 1 0 2.7 0a1.35 1.35 0 1 0-2.7 0M587.18 80.99a1.35 1.35 0 1 0 2.7 0a1.35 1.35 0 1 0-2.7 0M588.23 80.43a1.35 1.35 0 1 0 2.7 0a1.35 1.35 0 1 0-2.7 0M589.29 79.87a1.35 1.35 0 1 0 2.7 0a1.35 1.35 0 1 0-2.7 0M590.35 79.31a1.35 1.35 0 1 0 2.7 0a1.35 1.35 0 1 0-2.7 0M591.41 78.76a1.35 1.35 0 1 0 2.7 0a1.35 1.35 0 1 0-2.7 0M592.46 78.2a1.35 1.35 0 1 0 2.7 0a1.35 1.35 0 1 0-2.7 0M593.52 77.64a1.35 1.35 0 1 0 2.7 0a1.35 1.35 0 1 0-2.7 0M594.58 77.08a1.35 1.35 0 1 0 2.7 0a1.35 1.35 0 1 0-2.7 0M595.63 76.52a1.35 1.35 0 1 0 2.7 0a1.35 1.35 0 1 0-2.7 0M596.69 75.96a1.35 1.35 0 1 0 2.7 0a1.35 1.35 0 1 0-2.7 0M597.75 75.4a1.35 1.35 0 1 0 2.7 0a1.35 1.35 0 1 0-2.7 0M598.8 74.85a1.35 1.35 0 1 0 2.7 0a1.35 1.35 0 1 0-2.7 0M599.86 74.29a1.35 1.35 0 1 0 2.7 0a1.35 1.35 0 1 0-2.7 0" stroke="#2a2ac8" stroke-width=".75" fill="none"/></g>
<g><rect x="41.5" y="215.1" width="177.7" height="154.6" fill="none" stroke="#666" stroke-width="1.15"/><path d="M64.2 369.7v3.6M102.2 369.7v3.6M140.2 369.7v3.6M178.2 369.7v3.6M216.2 369.7v3.6M41.5 350.37h-3.6M41.5 330.35h-3.6M41.5 310.33h-3.6M41.5 290.31h-3.6M41.5 270.29h-3.6M41.5 250.27h-3.6M41.5 230.25h-3.6" stroke="#666" stroke-width="1" fill="none"/><text transform="translate(64.2 383.1) scale(1.08 1)" class="t th" text-anchor="middle">5</text><text transform="translate(102.2 383.1) scale(1.08 1)" class="t th" text-anchor="middle">10</text><text transform="translate(140.2 383.1) scale(1.08 1)" class="t th" text-anchor="middle">15</text><text transform="translate(178.2 383.1) scale(1.08 1)" class="t th" text-anchor="middle">20</text><text transform="translate(216.2 383.1) scale(1.08 1)" class="t th" text-anchor="middle">25</text><text transform="translate(32.7 350.37) rotate(-90) scale(0.8 1)" class="t" text-anchor="middle">1. 16</text><text transform="translate(32.7 330.35) rotate(-90) scale(0.8 1)" class="t" text-anchor="middle">1. 18</text><text transform="translate(32.7 310.33) rotate(-90) scale(0.8 1)" class="t" text-anchor="middle">1. 20</text><text transform="translate(32.7 290.31) rotate(-90) scale(0.8 1)" class="t" text-anchor="middle">1. 22</text><text transform="translate(32.7 270.29) rotate(-90) scale(0.8 1)" class="t" text-anchor="middle">1. 24</text><text transform="translate(32.7 250.27) rotate(-90) scale(0.8 1)" class="t" text-anchor="middle">1. 26</text><text transform="translate(32.7 230.25) rotate(-90) scale(0.8 1)" class="t" text-anchor="middle">1. 28</text><text x="144.3" y="397.6" class="ti" text-anchor="middle">Serum α-Klotho/100 (pg/ml)</text><text transform="translate(22 287.7) rotate(-90)" class="ti" text-anchor="middle">Pelvis BMD (g/cm<tspan dy="-2.6" font-size="4.6">2</tspan><tspan dy="2.6">)</tspan></text><text x="5" y="223.8" class="L">D</text><line x1="55.84" y1="307.63" x2="142.86" y2="300.78" stroke="#ee0a0a" stroke-width="2.3"/><path d="M46.75 308.25a1.15 1.15 0 1 0 2.3 0a1.15 1.15 0 1 0-2.3 0M49.83 308.01a1.15 1.15 0 1 0 2.3 0a1.15 1.15 0 1 0-2.3 0M50.81 307.93a1.15 1.15 0 1 0 2.3 0a1.15 1.15 0 1 0-2.3 0M54.69 307.63a1.15 1.15 0 1 0 2.3 0a1.15 1.15 0 1 0-2.3 0M56.59 307.48a1.15 1.15 0 1 0 2.3 0a1.15 1.15 0 1 0-2.3 0M58.49 307.33a1.15 1.15 0 1 0 2.3 0a1.15 1.15 0 1 0-2.3 0M60.39 307.18a1.15 1.15 0 1 0 2.3 0a1.15 1.15 0 1 0-2.3 0M62.29 307.03a1.15 1.15 0 1 0 2.3 0a1.15 1.15 0 1 0-2.3 0M64.19 306.88a1.15 1.15 0 1 0 2.3 0a1.15 1.15 0 1 0-2.3 0M66.09 306.73a1.15 1.15 0 1 0 2.3 0a1.15 1.15 0 1 0-2.3 0M67.99 306.58a1.15 1.15 0 1 0 2.3 0a1.15 1.15 0 1 0-2.3 0M69.89 306.43a1.15 1.15 0 1 0 2.3 0a1.15 1.15 0 1 0-2.3 0M71.79 306.28a1.15 1.15 0 1 0 2.3 0a1.15 1.15 0 1 0-2.3 0M73.69 306.13a1.15 1.15 0 1 0 2.3 0a1.15 1.15 0 1 0-2.3 0M75.59 305.98a1.15 1.15 0 1 0 2.3 0a1.15 1.15 0 1 0-2.3 0M77.49 305.83a1.15 1.15 0 1 0 2.3 0a1.15 1.15 0 1 0-2.3 0M79.39 305.68a1.15 1.15 0 1 0 2.3 0a1.15 1.15 0 1 0-2.3 0M81.29 305.53a1.15 1.15 0 1 0 2.3 0a1.15 1.15 0 1 0-2.3 0M83.19 305.38a1.15 1.15 0 1 0 2.3 0a1.15 1.15 0 1 0-2.3 0M85.09 305.23a1.15 1.15 0 1 0 2.3 0a1.15 1.15 0 1 0-2.3 0M86.99 305.08a1.15 1.15 0 1 0 2.3 0a1.15 1.15 0 1 0-2.3 0M88.89 304.93a1.15 1.15 0 1 0 2.3 0a1.15 1.15 0 1 0-2.3 0M90.79 304.79a1.15 1.15 0 1 0 2.3 0a1.15 1.15 0 1 0-2.3 0M92.69 304.64a1.15 1.15 0 1 0 2.3 0a1.15 1.15 0 1 0-2.3 0M94.59 304.49a1.15 1.15 0 1 0 2.3 0a1.15 1.15 0 1 0-2.3 0M96.49 304.34a1.15 1.15 0 1 0 2.3 0a1.15 1.15 0 1 0-2.3 0M98.39 304.19a1.15 1.15 0 1 0 2.3 0a1.15 1.15 0 1 0-2.3 0M100.29 304.04a1.15 1.15 0 1 0 2.3 0a1.15 1.15 0 1 0-2.3 0M102.19 303.89a1.15 1.15 0 1 0 2.3 0a1.15 1.15 0 1 0-2.3 0M104.09 303.74a1.15 1.15 0 1 0 2.3 0a1.15 1.15 0 1 0-2.3 0M105.99 303.59a1.15 1.15 0 1 0 2.3 0a1.15 1.15 0 1 0-2.3 0M107.89 303.44a1.15 1.15 0 1 0 2.3 0a1.15 1.15 0 1 0-2.3 0M109.79 303.29a1.15 1.15 0 1 0 2.3 0a1.15 1.15 0 1 0-2.3 0M111.69 303.14a1.15 1.15 0 1 0 2.3 0a1.15 1.15 0 1 0-2.3 0M113.59 302.99a1.15 1.15 0 1 0 2.3 0a1.15 1.15 0 1 0-2.3 0M115.49 302.84a1.15 1.15 0 1 0 2.3 0a1.15 1.15 0 1 0-2.3 0M117.39 302.69a1.15 1.15 0 1 0 2.3 0a1.15 1.15 0 1 0-2.3 0M119.29 302.54a1.15 1.15 0 1 0 2.3 0a1.15 1.15 0 1 0-2.3 0M121.19 302.39a1.15 1.15 0 1 0 2.3 0a1.15 1.15 0 1 0-2.3 0M123.09 302.24a1.15 1.15 0 1 0 2.3 0a1.15 1.15 0 1 0-2.3 0M124.99 302.09a1.15 1.15 0 1 0 2.3 0a1.15 1.15 0 1 0-2.3 0M126.89 301.94a1.15 1.15 0 1 0 2.3 0a1.15 1.15 0 1 0-2.3 0M128.79 301.8a1.15 1.15 0 1 0 2.3 0a1.15 1.15 0 1 0-2.3 0M130.69 301.65a1.15 1.15 0 1 0 2.3 0a1.15 1.15 0 1 0-2.3 0M132.59 301.5a1.15 1.15 0 1 0 2.3 0a1.15 1.15 0 1 0-2.3 0M134.49 301.35a1.15 1.15 0 1 0 2.3 0a1.15 1.15 0 1 0-2.3 0M136.39 301.2a1.15 1.15 0 1 0 2.3 0a1.15 1.15 0 1 0-2.3 0M138.29 301.05a1.15 1.15 0 1 0 2.3 0a1.15 1.15 0 1 0-2.3 0M140.19 300.9a1.15 1.15 0 1 0 2.3 0a1.15 1.15 0 1 0-2.3 0M145.51 300.48a1.15 1.15 0 1 0 2.3 0a1.15 1.15 0 1 0-2.3 0M146.65 300.39a1.15 1.15 0 1 0 2.3 0a1.15 1.15 0 1 0-2.3 0M147.79 300.3a1.15 1.15 0 1 0 2.3 0a1.15 1.15 0 1 0-2.3 0M148.93 300.21a1.15 1.15 0 1 0 2.3 0a1.15 1.15 0 1 0-2.3 0M151.21 300.03a1.15 1.15 0 1 0 2.3 0a1.15 1.15 0 1 0-2.3 0M152.35 299.94a1.15 1.15 0 1 0 2.3 0a1.15 1.15 0 1 0-2.3 0M153.49 299.85a1.15 1.15 0 1 0 2.3 0a1.15 1.15 0 1 0-2.3 0M155.77 299.67a1.15 1.15 0 1 0 2.3 0a1.15 1.15 0 1 0-2.3 0M156.91 299.58a1.15 1.15 0 1 0 2.3 0a1.15 1.15 0 1 0-2.3 0M159.57 299.37a1.15 1.15 0 1 0 2.3 0a1.15 1.15 0 1 0-2.3 0M160.86 299.27a1.15 1.15 0 1 0 2.3 0a1.15 1.15 0 1 0-2.3 0M166.26 298.85a1.15 1.15 0 1 0 2.3 0a1.15 1.15 0 1 0-2.3 0M168.08 298.7a1.15 1.15 0 1 0 2.3 0a1.15 1.15 0 1 0-2.3 0M172.87 298.33a1.15 1.15 0 1 0 2.3 0a1.15 1.15 0 1 0-2.3 0M174.77 298.18a1.15 1.15 0 1 0 2.3 0a1.15 1.15 0 1 0-2.3 0M179.18 297.83a1.15 1.15 0 1 0 2.3 0a1.15 1.15 0 1 0-2.3 0M186.17 297.28a1.15 1.15 0 1 0 2.3 0a1.15 1.15 0 1 0-2.3 0M187.69 297.16a1.15 1.15 0 1 0 2.3 0a1.15 1.15 0 1 0-2.3 0M189.06 297.05a1.15 1.15 0 1 0 2.3 0a1.15 1.15 0 1 0-2.3 0M211.35 295.3a1.15 1.15 0 1 0 2.3 0a1.15 1.15 0 1 0-2.3 0" fill="#ee0a0a"/><line x1="55.84" y1="290.86" x2="125" y2="318.38" stroke="#0000ff" stroke-width="3.4"/><path d="M46.55 287.7a1.35 1.35 0 1 0 2.7 0a1.35 1.35 0 1 0-2.7 0M49.63 288.92a1.35 1.35 0 1 0 2.7 0a1.35 1.35 0 1 0-2.7 0M50.61 289.32a1.35 1.35 0 1 0 2.7 0a1.35 1.35 0 1 0-2.7 0M54.49 290.86a1.35 1.35 0 1 0 2.7 0a1.35 1.35 0 1 0-2.7 0M56.39 291.62a1.35 1.35 0 1 0 2.7 0a1.35 1.35 0 1 0-2.7 0M58.29 292.37a1.35 1.35 0 1 0 2.7 0a1.35 1.35 0 1 0-2.7 0M60.19 293.13a1.35 1.35 0 1 0 2.7 0a1.35 1.35 0 1 0-2.7 0M62.09 293.88a1.35 1.35 0 1 0 2.7 0a1.35 1.35 0 1 0-2.7 0M63.99 294.64a1.35 1.35 0 1 0 2.7 0a1.35 1.35 0 1 0-2.7 0M65.89 295.4a1.35 1.35 0 1 0 2.7 0a1.35 1.35 0 1 0-2.7 0M67.79 296.15a1.35 1.35 0 1 0 2.7 0a1.35 1.35 0 1 0-2.7 0M69.69 296.91a1.35 1.35 0 1 0 2.7 0a1.35 1.35 0 1 0-2.7 0M71.59 297.66a1.35 1.35 0 1 0 2.7 0a1.35 1.35 0 1 0-2.7 0M73.49 298.42a1.35 1.35 0 1 0 2.7 0a1.35 1.35 0 1 0-2.7 0M75.39 299.18a1.35 1.35 0 1 0 2.7 0a1.35 1.35 0 1 0-2.7 0M77.29 299.93a1.35 1.35 0 1 0 2.7 0a1.35 1.35 0 1 0-2.7 0M79.19 300.69a1.35 1.35 0 1 0 2.7 0a1.35 1.35 0 1 0-2.7 0M81.09 301.44a1.35 1.35 0 1 0 2.7 0a1.35 1.35 0 1 0-2.7 0M82.99 302.2a1.35 1.35 0 1 0 2.7 0a1.35 1.35 0 1 0-2.7 0M84.89 302.96a1.35 1.35 0 1 0 2.7 0a1.35 1.35 0 1 0-2.7 0M86.79 303.71a1.35 1.35 0 1 0 2.7 0a1.35 1.35 0 1 0-2.7 0M88.69 304.47a1.35 1.35 0 1 0 2.7 0a1.35 1.35 0 1 0-2.7 0M90.59 305.23a1.35 1.35 0 1 0 2.7 0a1.35 1.35 0 1 0-2.7 0M92.49 305.98a1.35 1.35 0 1 0 2.7 0a1.35 1.35 0 1 0-2.7 0M94.39 306.74a1.35 1.35 0 1 0 2.7 0a1.35 1.35 0 1 0-2.7 0M96.29 307.49a1.35 1.35 0 1 0 2.7 0a1.35 1.35 0 1 0-2.7 0M98.19 308.25a1.35 1.35 0 1 0 2.7 0a1.35 1.35 0 1 0-2.7 0M100.09 309.01a1.35 1.35 0 1 0 2.7 0a1.35 1.35 0 1 0-2.7 0M101.99 309.76a1.35 1.35 0 1 0 2.7 0a1.35 1.35 0 1 0-2.7 0M103.89 310.52a1.35 1.35 0 1 0 2.7 0a1.35 1.35 0 1 0-2.7 0M105.79 311.27a1.35 1.35 0 1 0 2.7 0a1.35 1.35 0 1 0-2.7 0M107.69 312.03a1.35 1.35 0 1 0 2.7 0a1.35 1.35 0 1 0-2.7 0M109.59 312.79a1.35 1.35 0 1 0 2.7 0a1.35 1.35 0 1 0-2.7 0M111.49 313.54a1.35 1.35 0 1 0 2.7 0a1.35 1.35 0 1 0-2.7 0M113.39 314.3a1.35 1.35 0 1 0 2.7 0a1.35 1.35 0 1 0-2.7 0M115.29 315.05a1.35 1.35 0 1 0 2.7 0a1.35 1.35 0 1 0-2.7 0M117.19 315.81a1.35 1.35 0 1 0 2.7 0a1.35 1.35 0 1 0-2.7 0M119.09 316.57a1.35 1.35 0 1 0 2.7 0a1.35 1.35 0 1 0-2.7 0M120.99 317.32a1.35 1.35 0 1 0 2.7 0a1.35 1.35 0 1 0-2.7 0M122.89 318.08a1.35 1.35 0 1 0 2.7 0a1.35 1.35 0 1 0-2.7 0M124.79 318.83a1.35 1.35 0 1 0 2.7 0a1.35 1.35 0 1 0-2.7 0M126.69 319.59a1.35 1.35 0 1 0 2.7 0a1.35 1.35 0 1 0-2.7 0M128.59 320.35a1.35 1.35 0 1 0 2.7 0a1.35 1.35 0 1 0-2.7 0M130.49 321.1a1.35 1.35 0 1 0 2.7 0a1.35 1.35 0 1 0-2.7 0M132.39 321.86a1.35 1.35 0 1 0 2.7 0a1.35 1.35 0 1 0-2.7 0M134.29 322.61a1.35 1.35 0 1 0 2.7 0a1.35 1.35 0 1 0-2.7 0M136.19 323.37a1.35 1.35 0 1 0 2.7 0a1.35 1.35 0 1 0-2.7 0M138.09 324.13a1.35 1.35 0 1 0 2.7 0a1.35 1.35 0 1 0-2.7 0M139.99 324.88a1.35 1.35 0 1 0 2.7 0a1.35 1.35 0 1 0-2.7 0M145.31 327a1.35 1.35 0 1 0 2.7 0a1.35 1.35 0 1 0-2.7 0M146.45 327.45a1.35 1.35 0 1 0 2.7 0a1.35 1.35 0 1 0-2.7 0M147.59 327.91a1.35 1.35 0 1 0 2.7 0a1.35 1.35 0 1 0-2.7 0M148.73 328.36a1.35 1.35 0 1 0 2.7 0a1.35 1.35 0 1 0-2.7 0M151.01 329.27a1.35 1.35 0 1 0 2.7 0a1.35 1.35 0 1 0-2.7 0M152.15 329.72a1.35 1.35 0 1 0 2.7 0a1.35 1.35 0 1 0-2.7 0M153.29 330.18a1.35 1.35 0 1 0 2.7 0a1.35 1.35 0 1 0-2.7 0M155.57 331.08a1.35 1.35 0 1 0 2.7 0a1.35 1.35 0 1 0-2.7 0M156.71 331.54a1.35 1.35 0 1 0 2.7 0a1.35 1.35 0 1 0-2.7 0M159.37 332.59a1.35 1.35 0 1 0 2.7 0a1.35 1.35 0 1 0-2.7 0M160.66 333.11a1.35 1.35 0 1 0 2.7 0a1.35 1.35 0 1 0-2.7 0M166.06 335.26a1.35 1.35 0 1 0 2.7 0a1.35 1.35 0 1 0-2.7 0M167.88 335.98a1.35 1.35 0 1 0 2.7 0a1.35 1.35 0 1 0-2.7 0M172.67 337.89a1.35 1.35 0 1 0 2.7 0a1.35 1.35 0 1 0-2.7 0M174.57 338.64a1.35 1.35 0 1 0 2.7 0a1.35 1.35 0 1 0-2.7 0M178.98 340.4a1.35 1.35 0 1 0 2.7 0a1.35 1.35 0 1 0-2.7 0M185.97 343.18a1.35 1.35 0 1 0 2.7 0a1.35 1.35 0 1 0-2.7 0M187.49 343.78a1.35 1.35 0 1 0 2.7 0a1.35 1.35 0 1 0-2.7 0M188.86 344.33a1.35 1.35 0 1 0 2.7 0a1.35 1.35 0 1 0-2.7 0M211.15 353.2a1.35 1.35 0 1 0 2.7 0a1.35 1.35 0 1 0-2.7 0M142.65 325.94a1.35 1.35 0 1 0 2.7 0a1.35 1.35 0 1 0-2.7 0M143.79 326.4a1.35 1.35 0 1 0 2.7 0a1.35 1.35 0 1 0-2.7 0M123.65 318.38a1.35 1.35 0 1 0 2.7 0a1.35 1.35 0 1 0-2.7 0M124.71 318.8a1.35 1.35 0 1 0 2.7 0a1.35 1.35 0 1 0-2.7 0M125.78 319.23a1.35 1.35 0 1 0 2.7 0a1.35 1.35 0 1 0-2.7 0M126.84 319.65a1.35 1.35 0 1 0 2.7 0a1.35 1.35 0 1 0-2.7 0M127.91 320.07a1.35 1.35 0 1 0 2.7 0a1.35 1.35 0 1 0-2.7 0M128.97 320.5a1.35 1.35 0 1 0 2.7 0a1.35 1.35 0 1 0-2.7 0M130.03 320.92a1.35 1.35 0 1 0 2.7 0a1.35 1.35 0 1 0-2.7 0M131.1 321.34a1.35 1.35 0 1 0 2.7 0a1.35 1.35 0 1 0-2.7 0M132.16 321.77a1.35 1.35 0 1 0 2.7 0a1.35 1.35 0 1 0-2.7 0M133.23 322.19a1.35 1.35 0 1 0 2.7 0a1.35 1.35 0 1 0-2.7 0M134.29 322.61a1.35 1.35 0 1 0 2.7 0a1.35 1.35 0 1 0-2.7 0M135.35 323.04a1.35 1.35 0 1 0 2.7 0a1.35 1.35 0 1 0-2.7 0M136.42 323.46a1.35 1.35 0 1 0 2.7 0a1.35 1.35 0 1 0-2.7 0M137.48 323.88a1.35 1.35 0 1 0 2.7 0a1.35 1.35 0 1 0-2.7 0M138.55 324.31a1.35 1.35 0 1 0 2.7 0a1.35 1.35 0 1 0-2.7 0M139.61 324.73a1.35 1.35 0 1 0 2.7 0a1.35 1.35 0 1 0-2.7 0M140.67 325.16a1.35 1.35 0 1 0 2.7 0a1.35 1.35 0 1 0-2.7 0" stroke="#2a2ac8" stroke-width=".75" fill="none"/><line x1="55.84" y1="325.49" x2="125" y2="287.09" stroke="#0000ff" stroke-width="3.4"/><path d="M46.55 329.9a1.35 1.35 0 1 0 2.7 0a1.35 1.35 0 1 0-2.7 0M49.63 328.19a1.35 1.35 0 1 0 2.7 0a1.35 1.35 0 1 0-2.7 0M50.61 327.64a1.35 1.35 0 1 0 2.7 0a1.35 1.35 0 1 0-2.7 0M54.49 325.49a1.35 1.35 0 1 0 2.7 0a1.35 1.35 0 1 0-2.7 0M56.39 324.44a1.35 1.35 0 1 0 2.7 0a1.35 1.35 0 1 0-2.7 0M58.29 323.38a1.35 1.35 0 1 0 2.7 0a1.35 1.35 0 1 0-2.7 0M60.19 322.33a1.35 1.35 0 1 0 2.7 0a1.35 1.35 0 1 0-2.7 0M62.09 321.27a1.35 1.35 0 1 0 2.7 0a1.35 1.35 0 1 0-2.7 0M63.99 320.22a1.35 1.35 0 1 0 2.7 0a1.35 1.35 0 1 0-2.7 0M65.89 319.16a1.35 1.35 0 1 0 2.7 0a1.35 1.35 0 1 0-2.7 0M67.79 318.11a1.35 1.35 0 1 0 2.7 0a1.35 1.35 0 1 0-2.7 0M69.69 317.05a1.35 1.35 0 1 0 2.7 0a1.35 1.35 0 1 0-2.7 0M71.59 316a1.35 1.35 0 1 0 2.7 0a1.35 1.35 0 1 0-2.7 0M73.49 314.94a1.35 1.35 0 1 0 2.7 0a1.35 1.35 0 1 0-2.7 0M75.39 313.89a1.35 1.35 0 1 0 2.7 0a1.35 1.35 0 1 0-2.7 0M77.29 312.83a1.35 1.35 0 1 0 2.7 0a1.35 1.35 0 1 0-2.7 0M79.19 311.78a1.35 1.35 0 1 0 2.7 0a1.35 1.35 0 1 0-2.7 0M81.09 310.72a1.35 1.35 0 1 0 2.7 0a1.35 1.35 0 1 0-2.7 0M82.99 309.67a1.35 1.35 0 1 0 2.7 0a1.35 1.35 0 1 0-2.7 0M84.89 308.61a1.35 1.35 0 1 0 2.7 0a1.35 1.35 0 1 0-2.7 0M86.79 307.56a1.35 1.35 0 1 0 2.7 0a1.35 1.35 0 1 0-2.7 0M88.69 306.5a1.35 1.35 0 1 0 2.7 0a1.35 1.35 0 1 0-2.7 0M90.59 305.45a1.35 1.35 0 1 0 2.7 0a1.35 1.35 0 1 0-2.7 0M92.49 304.39a1.35 1.35 0 1 0 2.7 0a1.35 1.35 0 1 0-2.7 0M94.39 303.34a1.35 1.35 0 1 0 2.7 0a1.35 1.35 0 1 0-2.7 0M96.29 302.28a1.35 1.35 0 1 0 2.7 0a1.35 1.35 0 1 0-2.7 0M98.19 301.23a1.35 1.35 0 1 0 2.7 0a1.35 1.35 0 1 0-2.7 0M100.09 300.17a1.35 1.35 0 1 0 2.7 0a1.35 1.35 0 1 0-2.7 0M101.99 299.11a1.35 1.35 0 1 0 2.7 0a1.35 1.35 0 1 0-2.7 0M103.89 298.06a1.35 1.35 0 1 0 2.7 0a1.35 1.35 0 1 0-2.7 0M105.79 297a1.35 1.35 0 1 0 2.7 0a1.35 1.35 0 1 0-2.7 0M107.69 295.95a1.35 1.35 0 1 0 2.7 0a1.35 1.35 0 1 0-2.7 0M109.59 294.89a1.35 1.35 0 1 0 2.7 0a1.35 1.35 0 1 0-2.7 0M111.49 293.84a1.35 1.35 0 1 0 2.7 0a1.35 1.35 0 1 0-2.7 0M113.39 292.78a1.35 1.35 0 1 0 2.7 0a1.35 1.35 0 1 0-2.7 0M115.29 291.73a1.35 1.35 0 1 0 2.7 0a1.35 1.35 0 1 0-2.7 0M117.19 290.67a1.35 1.35 0 1 0 2.7 0a1.35 1.35 0 1 0-2.7 0M119.09 289.62a1.35 1.35 0 1 0 2.7 0a1.35 1.35 0 1 0-2.7 0M120.99 288.56a1.35 1.35 0 1 0 2.7 0a1.35 1.35 0 1 0-2.7 0M122.89 287.51a1.35 1.35 0 1 0 2.7 0a1.35 1.35 0 1 0-2.7 0M124.79 286.45a1.35 1.35 0 1 0 2.7 0a1.35 1.35 0 1 0-2.7 0M126.69 285.4a1.35 1.35 0 1 0 2.7 0a1.35 1.35 0 1 0-2.7 0M128.59 284.34a1.35 1.35 0 1 0 2.7 0a1.35 1.35 0 1 0-2.7 0M130.49 283.29a1.35 1.35 0 1 0 2.7 0a1.35 1.35 0 1 0-2.7 0M132.39 282.23a1.35 1.35 0 1 0 2.7 0a1.35 1.35 0 1 0-2.7 0M134.29 281.18a1.35 1.35 0 1 0 2.7 0a1.35 1.35 0 1 0-2.7 0M136.19 280.12a1.35 1.35 0 1 0 2.7 0a1.35 1.35 0 1 0-2.7 0M138.09 279.07a1.35 1.35 0 1 0 2.7 0a1.35 1.35 0 1 0-2.7 0M139.99 278.01a1.35 1.35 0 1 0 2.7 0a1.35 1.35 0 1 0-2.7 0M145.31 275.06a1.35 1.35 0 1 0 2.7 0a1.35 1.35 0 1 0-2.7 0M146.45 274.43a1.35 1.35 0 1 0 2.7 0a1.35 1.35 0 1 0-2.7 0M147.59 273.79a1.35 1.35 0 1 0 2.7 0a1.35 1.35 0 1 0-2.7 0M148.73 273.16a1.35 1.35 0 1 0 2.7 0a1.35 1.35 0 1 0-2.7 0M151.01 271.89a1.35 1.35 0 1 0 2.7 0a1.35 1.35 0 1 0-2.7 0M152.15 271.26a1.35 1.35 0 1 0 2.7 0a1.35 1.35 0 1 0-2.7 0M153.29 270.63a1.35 1.35 0 1 0 2.7 0a1.35 1.35 0 1 0-2.7 0M155.57 269.36a1.35 1.35 0 1 0 2.7 0a1.35 1.35 0 1 0-2.7 0M156.71 268.73a1.35 1.35 0 1 0 2.7 0a1.35 1.35 0 1 0-2.7 0M159.37 267.25a1.35 1.35 0 1 0 2.7 0a1.35 1.35 0 1 0-2.7 0M160.66 266.54a1.35 1.35 0 1 0 2.7 0a1.35 1.35 0 1 0-2.7 0M166.06 263.54a1.35 1.35 0 1 0 2.7 0a1.35 1.35 0 1 0-2.7 0M167.88 262.53a1.35 1.35 0 1 0 2.7 0a1.35 1.35 0 1 0-2.7 0M172.67 259.87a1.35 1.35 0 1 0 2.7 0a1.35 1.35 0 1 0-2.7 0M174.57 258.81a1.35 1.35 0 1 0 2.7 0a1.35 1.35 0 1 0-2.7 0M178.98 256.36a1.35 1.35 0 1 0 2.7 0a1.35 1.35 0 1 0-2.7 0M185.97 252.48a1.35 1.35 0 1 0 2.7 0a1.35 1.35 0 1 0-2.7 0M187.49 251.64a1.35 1.35 0 1 0 2.7 0a1.35 1.35 0 1 0-2.7 0M188.86 250.88a1.35 1.35 0 1 0 2.7 0a1.35 1.35 0 1 0-2.7 0M211.15 238.5a1.35 1.35 0 1 0 2.7 0a1.35 1.35 0 1 0-2.7 0M142.65 276.54a1.35 1.35 0 1 0 2.7 0a1.35 1.35 0 1 0-2.7 0M143.79 275.9a1.35 1.35 0 1 0 2.7 0a1.35 1.35 0 1 0-2.7 0M123.65 287.09a1.35 1.35 0 1 0 2.7 0a1.35 1.35 0 1 0-2.7 0M124.71 286.5a1.35 1.35 0 1 0 2.7 0a1.35 1.35 0 1 0-2.7 0M125.78 285.91a1.35 1.35 0 1 0 2.7 0a1.35 1.35 0 1 0-2.7 0M126.84 285.32a1.35 1.35 0 1 0 2.7 0a1.35 1.35 0 1 0-2.7 0M127.91 284.72a1.35 1.35 0 1 0 2.7 0a1.35 1.35 0 1 0-2.7 0M128.97 284.13a1.35 1.35 0 1 0 2.7 0a1.35 1.35 0 1 0-2.7 0M130.03 283.54a1.35 1.35 0 1 0 2.7 0a1.35 1.35 0 1 0-2.7 0M131.1 282.95a1.35 1.35 0 1 0 2.7 0a1.35 1.35 0 1 0-2.7 0M132.16 282.36a1.35 1.35 0 1 0 2.7 0a1.35 1.35 0 1 0-2.7 0M133.23 281.77a1.35 1.35 0 1 0 2.7 0a1.35 1.35 0 1 0-2.7 0M134.29 281.18a1.35 1.35 0 1 0 2.7 0a1.35 1.35 0 1 0-2.7 0M135.35 280.59a1.35 1.35 0 1 0 2.7 0a1.35 1.35 0 1 0-2.7 0M136.42 280a1.35 1.35 0 1 0 2.7 0a1.35 1.35 0 1 0-2.7 0M137.48 279.41a1.35 1.35 0 1 0 2.7 0a1.35 1.35 0 1 0-2.7 0M138.55 278.82a1.35 1.35 0 1 0 2.7 0a1.35 1.35 0 1 0-2.7 0M139.61 278.23a1.35 1.35 0 1 0 2.7 0a1.35 1.35 0 1 0-2.7 0M140.67 277.63a1.35 1.35 0 1 0 2.7 0a1.35 1.35 0 1 0-2.7 0" stroke="#2a2ac8" stroke-width=".75" fill="none"/></g>
<g><rect x="274.1" y="215.2" width="177.5" height="154.5" fill="none" stroke="#666" stroke-width="1.15"/><path d="M296.4 369.7v3.6M334.32 369.7v3.6M372.25 369.7v3.6M410.17 369.7v3.6M448.1 369.7v3.6M274.1 350.06h-3.6M274.1 318.93h-3.6M274.1 287.8h-3.6M274.1 256.67h-3.6M274.1 225.54h-3.6" stroke="#666" stroke-width="1" fill="none"/><text transform="translate(296.4 383.1) scale(1.08 1)" class="t th" text-anchor="middle">5</text><text transform="translate(334.32 383.1) scale(1.08 1)" class="t th" text-anchor="middle">10</text><text transform="translate(372.25 383.1) scale(1.08 1)" class="t th" text-anchor="middle">15</text><text transform="translate(410.17 383.1) scale(1.08 1)" class="t th" text-anchor="middle">20</text><text transform="translate(448.1 383.1) scale(1.08 1)" class="t th" text-anchor="middle">25</text><text transform="translate(265.3 350.06) rotate(-90) scale(0.8 1)" class="t" text-anchor="middle">0. 84</text><text transform="translate(265.3 318.93) rotate(-90) scale(0.8 1)" class="t" text-anchor="middle">0. 86</text><text transform="translate(265.3 287.8) rotate(-90) scale(0.8 1)" class="t" text-anchor="middle">0. 88</text><text transform="translate(265.3 256.67) rotate(-90) scale(0.8 1)" class="t" text-anchor="middle">0. 90</text><text transform="translate(265.3 225.54) rotate(-90) scale(0.8 1)" class="t" text-anchor="middle">0. 92</text><text x="375.8" y="397.6" class="ti" text-anchor="middle">Serum α-Klotho/100 (pg/ml)</text><text transform="translate(254 287.6) rotate(-90)" class="ti" text-anchor="middle">Trunk Bone BMD (g/cm<tspan dy="-2.6" font-size="4.6">2</tspan><tspan dy="2.6">)</tspan></text><text x="236.9" y="223.5" class="L">E</text><line x1="288.06" y1="323.67" x2="374.9" y2="307.88" stroke="#ee0a0a" stroke-width="2.3"/><path d="M279.05 325.1a1.15 1.15 0 1 0 2.3 0a1.15 1.15 0 1 0-2.3 0M282.05 324.55a1.15 1.15 0 1 0 2.3 0a1.15 1.15 0 1 0-2.3 0M283.04 324.37a1.15 1.15 0 1 0 2.3 0a1.15 1.15 0 1 0-2.3 0M286.91 323.67a1.15 1.15 0 1 0 2.3 0a1.15 1.15 0 1 0-2.3 0M288.8 323.33a1.15 1.15 0 1 0 2.3 0a1.15 1.15 0 1 0-2.3 0M290.7 322.98a1.15 1.15 0 1 0 2.3 0a1.15 1.15 0 1 0-2.3 0M292.6 322.64a1.15 1.15 0 1 0 2.3 0a1.15 1.15 0 1 0-2.3 0M294.49 322.29a1.15 1.15 0 1 0 2.3 0a1.15 1.15 0 1 0-2.3 0M296.39 321.95a1.15 1.15 0 1 0 2.3 0a1.15 1.15 0 1 0-2.3 0M298.28 321.6a1.15 1.15 0 1 0 2.3 0a1.15 1.15 0 1 0-2.3 0M300.18 321.26a1.15 1.15 0 1 0 2.3 0a1.15 1.15 0 1 0-2.3 0M302.08 320.91a1.15 1.15 0 1 0 2.3 0a1.15 1.15 0 1 0-2.3 0M303.97 320.57a1.15 1.15 0 1 0 2.3 0a1.15 1.15 0 1 0-2.3 0M305.87 320.22a1.15 1.15 0 1 0 2.3 0a1.15 1.15 0 1 0-2.3 0M307.77 319.88a1.15 1.15 0 1 0 2.3 0a1.15 1.15 0 1 0-2.3 0M309.66 319.53a1.15 1.15 0 1 0 2.3 0a1.15 1.15 0 1 0-2.3 0M311.56 319.19a1.15 1.15 0 1 0 2.3 0a1.15 1.15 0 1 0-2.3 0M313.45 318.84a1.15 1.15 0 1 0 2.3 0a1.15 1.15 0 1 0-2.3 0M315.35 318.5a1.15 1.15 0 1 0 2.3 0a1.15 1.15 0 1 0-2.3 0M317.25 318.15a1.15 1.15 0 1 0 2.3 0a1.15 1.15 0 1 0-2.3 0M319.14 317.81a1.15 1.15 0 1 0 2.3 0a1.15 1.15 0 1 0-2.3 0M321.04 317.46a1.15 1.15 0 1 0 2.3 0a1.15 1.15 0 1 0-2.3 0M322.94 317.12a1.15 1.15 0 1 0 2.3 0a1.15 1.15 0 1 0-2.3 0M324.83 316.77a1.15 1.15 0 1 0 2.3 0a1.15 1.15 0 1 0-2.3 0M326.73 316.43a1.15 1.15 0 1 0 2.3 0a1.15 1.15 0 1 0-2.3 0M328.62 316.08a1.15 1.15 0 1 0 2.3 0a1.15 1.15 0 1 0-2.3 0M330.52 315.74a1.15 1.15 0 1 0 2.3 0a1.15 1.15 0 1 0-2.3 0M332.42 315.39a1.15 1.15 0 1 0 2.3 0a1.15 1.15 0 1 0-2.3 0M334.31 315.05a1.15 1.15 0 1 0 2.3 0a1.15 1.15 0 1 0-2.3 0M336.21 314.7a1.15 1.15 0 1 0 2.3 0a1.15 1.15 0 1 0-2.3 0M338.11 314.36a1.15 1.15 0 1 0 2.3 0a1.15 1.15 0 1 0-2.3 0M340 314.01a1.15 1.15 0 1 0 2.3 0a1.15 1.15 0 1 0-2.3 0M341.9 313.67a1.15 1.15 0 1 0 2.3 0a1.15 1.15 0 1 0-2.3 0M343.79 313.32a1.15 1.15 0 1 0 2.3 0a1.15 1.15 0 1 0-2.3 0M345.69 312.98a1.15 1.15 0 1 0 2.3 0a1.15 1.15 0 1 0-2.3 0M347.59 312.64a1.15 1.15 0 1 0 2.3 0a1.15 1.15 0 1 0-2.3 0M349.48 312.29a1.15 1.15 0 1 0 2.3 0a1.15 1.15 0 1 0-2.3 0M351.38 311.95a1.15 1.15 0 1 0 2.3 0a1.15 1.15 0 1 0-2.3 0M353.28 311.6a1.15 1.15 0 1 0 2.3 0a1.15 1.15 0 1 0-2.3 0M355.17 311.26a1.15 1.15 0 1 0 2.3 0a1.15 1.15 0 1 0-2.3 0M357.07 310.91a1.15 1.15 0 1 0 2.3 0a1.15 1.15 0 1 0-2.3 0M358.96 310.57a1.15 1.15 0 1 0 2.3 0a1.15 1.15 0 1 0-2.3 0M360.86 310.22a1.15 1.15 0 1 0 2.3 0a1.15 1.15 0 1 0-2.3 0M362.76 309.88a1.15 1.15 0 1 0 2.3 0a1.15 1.15 0 1 0-2.3 0M364.65 309.53a1.15 1.15 0 1 0 2.3 0a1.15 1.15 0 1 0-2.3 0M366.55 309.19a1.15 1.15 0 1 0 2.3 0a1.15 1.15 0 1 0-2.3 0M368.45 308.84a1.15 1.15 0 1 0 2.3 0a1.15 1.15 0 1 0-2.3 0M370.34 308.5a1.15 1.15 0 1 0 2.3 0a1.15 1.15 0 1 0-2.3 0M372.24 308.15a1.15 1.15 0 1 0 2.3 0a1.15 1.15 0 1 0-2.3 0M377.55 307.19a1.15 1.15 0 1 0 2.3 0a1.15 1.15 0 1 0-2.3 0M378.69 306.98a1.15 1.15 0 1 0 2.3 0a1.15 1.15 0 1 0-2.3 0M379.82 306.77a1.15 1.15 0 1 0 2.3 0a1.15 1.15 0 1 0-2.3 0M380.96 306.57a1.15 1.15 0 1 0 2.3 0a1.15 1.15 0 1 0-2.3 0M383.24 306.15a1.15 1.15 0 1 0 2.3 0a1.15 1.15 0 1 0-2.3 0M384.37 305.94a1.15 1.15 0 1 0 2.3 0a1.15 1.15 0 1 0-2.3 0M385.51 305.74a1.15 1.15 0 1 0 2.3 0a1.15 1.15 0 1 0-2.3 0M387.79 305.32a1.15 1.15 0 1 0 2.3 0a1.15 1.15 0 1 0-2.3 0M388.92 305.12a1.15 1.15 0 1 0 2.3 0a1.15 1.15 0 1 0-2.3 0M391.58 304.63a1.15 1.15 0 1 0 2.3 0a1.15 1.15 0 1 0-2.3 0M392.87 304.4a1.15 1.15 0 1 0 2.3 0a1.15 1.15 0 1 0-2.3 0M398.25 303.42a1.15 1.15 0 1 0 2.3 0a1.15 1.15 0 1 0-2.3 0M400.07 303.09a1.15 1.15 0 1 0 2.3 0a1.15 1.15 0 1 0-2.3 0M404.85 302.22a1.15 1.15 0 1 0 2.3 0a1.15 1.15 0 1 0-2.3 0M406.75 301.87a1.15 1.15 0 1 0 2.3 0a1.15 1.15 0 1 0-2.3 0M411.15 301.07a1.15 1.15 0 1 0 2.3 0a1.15 1.15 0 1 0-2.3 0M418.13 299.81a1.15 1.15 0 1 0 2.3 0a1.15 1.15 0 1 0-2.3 0M419.64 299.53a1.15 1.15 0 1 0 2.3 0a1.15 1.15 0 1 0-2.3 0M421.01 299.28a1.15 1.15 0 1 0 2.3 0a1.15 1.15 0 1 0-2.3 0M443.45 295.2a1.15 1.15 0 1 0 2.3 0a1.15 1.15 0 1 0-2.3 0" fill="#ee0a0a"/><line x1="288.06" y1="306.48" x2="357.08" y2="326.97" stroke="#0000ff" stroke-width="3.4"/><path d="M278.85 304.15a1.35 1.35 0 1 0 2.7 0a1.35 1.35 0 1 0-2.7 0M281.85 305.04a1.35 1.35 0 1 0 2.7 0a1.35 1.35 0 1 0-2.7 0M282.84 305.33a1.35 1.35 0 1 0 2.7 0a1.35 1.35 0 1 0-2.7 0M286.71 306.48a1.35 1.35 0 1 0 2.7 0a1.35 1.35 0 1 0-2.7 0M288.6 307.04a1.35 1.35 0 1 0 2.7 0a1.35 1.35 0 1 0-2.7 0M290.5 307.61a1.35 1.35 0 1 0 2.7 0a1.35 1.35 0 1 0-2.7 0M292.4 308.17a1.35 1.35 0 1 0 2.7 0a1.35 1.35 0 1 0-2.7 0M294.29 308.73a1.35 1.35 0 1 0 2.7 0a1.35 1.35 0 1 0-2.7 0M296.19 309.3a1.35 1.35 0 1 0 2.7 0a1.35 1.35 0 1 0-2.7 0M298.08 309.86a1.35 1.35 0 1 0 2.7 0a1.35 1.35 0 1 0-2.7 0M299.98 310.42a1.35 1.35 0 1 0 2.7 0a1.35 1.35 0 1 0-2.7 0M301.88 310.99a1.35 1.35 0 1 0 2.7 0a1.35 1.35 0 1 0-2.7 0M303.77 311.55a1.35 1.35 0 1 0 2.7 0a1.35 1.35 0 1 0-2.7 0M305.67 312.11a1.35 1.35 0 1 0 2.7 0a1.35 1.35 0 1 0-2.7 0M307.57 312.67a1.35 1.35 0 1 0 2.7 0a1.35 1.35 0 1 0-2.7 0M309.46 313.24a1.35 1.35 0 1 0 2.7 0a1.35 1.35 0 1 0-2.7 0M311.36 313.8a1.35 1.35 0 1 0 2.7 0a1.35 1.35 0 1 0-2.7 0M313.25 314.36a1.35 1.35 0 1 0 2.7 0a1.35 1.35 0 1 0-2.7 0M315.15 314.93a1.35 1.35 0 1 0 2.7 0a1.35 1.35 0 1 0-2.7 0M317.05 315.49a1.35 1.35 0 1 0 2.7 0a1.35 1.35 0 1 0-2.7 0M318.94 316.05a1.35 1.35 0 1 0 2.7 0a1.35 1.35 0 1 0-2.7 0M320.84 316.61a1.35 1.35 0 1 0 2.7 0a1.35 1.35 0 1 0-2.7 0M322.74 317.18a1.35 1.35 0 1 0 2.7 0a1.35 1.35 0 1 0-2.7 0M324.63 317.74a1.35 1.35 0 1 0 2.7 0a1.35 1.35 0 1 0-2.7 0M326.53 318.3a1.35 1.35 0 1 0 2.7 0a1.35 1.35 0 1 0-2.7 0M328.42 318.87a1.35 1.35 0 1 0 2.7 0a1.35 1.35 0 1 0-2.7 0M330.32 319.43a1.35 1.35 0 1 0 2.7 0a1.35 1.35 0 1 0-2.7 0M332.22 319.99a1.35 1.35 0 1 0 2.7 0a1.35 1.35 0 1 0-2.7 0M334.11 320.55a1.35 1.35 0 1 0 2.7 0a1.35 1.35 0 1 0-2.7 0M336.01 321.12a1.35 1.35 0 1 0 2.7 0a1.35 1.35 0 1 0-2.7 0M337.91 321.68a1.35 1.35 0 1 0 2.7 0a1.35 1.35 0 1 0-2.7 0M339.8 322.24a1.35 1.35 0 1 0 2.7 0a1.35 1.35 0 1 0-2.7 0M341.7 322.81a1.35 1.35 0 1 0 2.7 0a1.35 1.35 0 1 0-2.7 0M343.59 323.37a1.35 1.35 0 1 0 2.7 0a1.35 1.35 0 1 0-2.7 0M345.49 323.93a1.35 1.35 0 1 0 2.7 0a1.35 1.35 0 1 0-2.7 0M347.39 324.49a1.35 1.35 0 1 0 2.7 0a1.35 1.35 0 1 0-2.7 0M349.28 325.06a1.35 1.35 0 1 0 2.7 0a1.35 1.35 0 1 0-2.7 0M351.18 325.62a1.35 1.35 0 1 0 2.7 0a1.35 1.35 0 1 0-2.7 0M353.08 326.18a1.35 1.35 0 1 0 2.7 0a1.35 1.35 0 1 0-2.7 0M354.97 326.75a1.35 1.35 0 1 0 2.7 0a1.35 1.35 0 1 0-2.7 0M356.87 327.31a1.35 1.35 0 1 0 2.7 0a1.35 1.35 0 1 0-2.7 0M358.76 327.87a1.35 1.35 0 1 0 2.7 0a1.35 1.35 0 1 0-2.7 0M360.66 328.43a1.35 1.35 0 1 0 2.7 0a1.35 1.35 0 1 0-2.7 0M362.56 329a1.35 1.35 0 1 0 2.7 0a1.35 1.35 0 1 0-2.7 0M364.45 329.56a1.35 1.35 0 1 0 2.7 0a1.35 1.35 0 1 0-2.7 0M366.35 330.12a1.35 1.35 0 1 0 2.7 0a1.35 1.35 0 1 0-2.7 0M368.25 330.69a1.35 1.35 0 1 0 2.7 0a1.35 1.35 0 1 0-2.7 0M370.14 331.25a1.35 1.35 0 1 0 2.7 0a1.35 1.35 0 1 0-2.7 0M372.04 331.81a1.35 1.35 0 1 0 2.7 0a1.35 1.35 0 1 0-2.7 0M377.35 333.39a1.35 1.35 0 1 0 2.7 0a1.35 1.35 0 1 0-2.7 0M378.48 333.73a1.35 1.35 0 1 0 2.7 0a1.35 1.35 0 1 0-2.7 0M379.62 334.06a1.35 1.35 0 1 0 2.7 0a1.35 1.35 0 1 0-2.7 0M380.76 334.4a1.35 1.35 0 1 0 2.7 0a1.35 1.35 0 1 0-2.7 0M383.04 335.08a1.35 1.35 0 1 0 2.7 0a1.35 1.35 0 1 0-2.7 0M384.17 335.41a1.35 1.35 0 1 0 2.7 0a1.35 1.35 0 1 0-2.7 0M385.31 335.75a1.35 1.35 0 1 0 2.7 0a1.35 1.35 0 1 0-2.7 0M387.59 336.43a1.35 1.35 0 1 0 2.7 0a1.35 1.35 0 1 0-2.7 0M388.72 336.76a1.35 1.35 0 1 0 2.7 0a1.35 1.35 0 1 0-2.7 0M391.38 337.55a1.35 1.35 0 1 0 2.7 0a1.35 1.35 0 1 0-2.7 0M392.67 337.94a1.35 1.35 0 1 0 2.7 0a1.35 1.35 0 1 0-2.7 0M398.05 339.53a1.35 1.35 0 1 0 2.7 0a1.35 1.35 0 1 0-2.7 0M399.87 340.07a1.35 1.35 0 1 0 2.7 0a1.35 1.35 0 1 0-2.7 0M404.65 341.49a1.35 1.35 0 1 0 2.7 0a1.35 1.35 0 1 0-2.7 0M406.55 342.06a1.35 1.35 0 1 0 2.7 0a1.35 1.35 0 1 0-2.7 0M410.95 343.36a1.35 1.35 0 1 0 2.7 0a1.35 1.35 0 1 0-2.7 0M417.93 345.43a1.35 1.35 0 1 0 2.7 0a1.35 1.35 0 1 0-2.7 0M419.44 345.88a1.35 1.35 0 1 0 2.7 0a1.35 1.35 0 1 0-2.7 0M420.81 346.29a1.35 1.35 0 1 0 2.7 0a1.35 1.35 0 1 0-2.7 0M443.25 352.95a1.35 1.35 0 1 0 2.7 0a1.35 1.35 0 1 0-2.7 0M374.69 332.6a1.35 1.35 0 1 0 2.7 0a1.35 1.35 0 1 0-2.7 0M375.83 332.94a1.35 1.35 0 1 0 2.7 0a1.35 1.35 0 1 0-2.7 0M355.73 326.97a1.35 1.35 0 1 0 2.7 0a1.35 1.35 0 1 0-2.7 0M356.79 327.29a1.35 1.35 0 1 0 2.7 0a1.35 1.35 0 1 0-2.7 0M357.85 327.6a1.35 1.35 0 1 0 2.7 0a1.35 1.35 0 1 0-2.7 0M358.92 327.92a1.35 1.35 0 1 0 2.7 0a1.35 1.35 0 1 0-2.7 0M359.98 328.23a1.35 1.35 0 1 0 2.7 0a1.35 1.35 0 1 0-2.7 0M361.04 328.55a1.35 1.35 0 1 0 2.7 0a1.35 1.35 0 1 0-2.7 0M362.1 328.86a1.35 1.35 0 1 0 2.7 0a1.35 1.35 0 1 0-2.7 0M363.16 329.18a1.35 1.35 0 1 0 2.7 0a1.35 1.35 0 1 0-2.7 0M364.23 329.49a1.35 1.35 0 1 0 2.7 0a1.35 1.35 0 1 0-2.7 0M365.29 329.81a1.35 1.35 0 1 0 2.7 0a1.35 1.35 0 1 0-2.7 0M366.35 330.12a1.35 1.35 0 1 0 2.7 0a1.35 1.35 0 1 0-2.7 0M367.41 330.44a1.35 1.35 0 1 0 2.7 0a1.35 1.35 0 1 0-2.7 0M368.47 330.75a1.35 1.35 0 1 0 2.7 0a1.35 1.35 0 1 0-2.7 0M369.53 331.07a1.35 1.35 0 1 0 2.7 0a1.35 1.35 0 1 0-2.7 0M370.6 331.38a1.35 1.35 0 1 0 2.7 0a1.35 1.35 0 1 0-2.7 0M371.66 331.7a1.35 1.35 0 1 0 2.7 0a1.35 1.35 0 1 0-2.7 0M372.72 332.01a1.35 1.35 0 1 0 2.7 0a1.35 1.35 0 1 0-2.7 0" stroke="#2a2ac8" stroke-width=".75" fill="none"/><line x1="288.06" y1="341.09" x2="357.08" y2="295.79" stroke="#0000ff" stroke-width="3.4"/><path d="M278.85 346.25a1.35 1.35 0 1 0 2.7 0a1.35 1.35 0 1 0-2.7 0M281.85 344.28a1.35 1.35 0 1 0 2.7 0a1.35 1.35 0 1 0-2.7 0M282.84 343.63a1.35 1.35 0 1 0 2.7 0a1.35 1.35 0 1 0-2.7 0M286.71 341.09a1.35 1.35 0 1 0 2.7 0a1.35 1.35 0 1 0-2.7 0M288.6 339.85a1.35 1.35 0 1 0 2.7 0a1.35 1.35 0 1 0-2.7 0M290.5 338.6a1.35 1.35 0 1 0 2.7 0a1.35 1.35 0 1 0-2.7 0M292.4 337.36a1.35 1.35 0 1 0 2.7 0a1.35 1.35 0 1 0-2.7 0M294.29 336.12a1.35 1.35 0 1 0 2.7 0a1.35 1.35 0 1 0-2.7 0M296.19 334.87a1.35 1.35 0 1 0 2.7 0a1.35 1.35 0 1 0-2.7 0M298.08 333.63a1.35 1.35 0 1 0 2.7 0a1.35 1.35 0 1 0-2.7 0M299.98 332.38a1.35 1.35 0 1 0 2.7 0a1.35 1.35 0 1 0-2.7 0M301.88 331.14a1.35 1.35 0 1 0 2.7 0a1.35 1.35 0 1 0-2.7 0M303.77 329.89a1.35 1.35 0 1 0 2.7 0a1.35 1.35 0 1 0-2.7 0M305.67 328.65a1.35 1.35 0 1 0 2.7 0a1.35 1.35 0 1 0-2.7 0M307.57 327.4a1.35 1.35 0 1 0 2.7 0a1.35 1.35 0 1 0-2.7 0M309.46 326.16a1.35 1.35 0 1 0 2.7 0a1.35 1.35 0 1 0-2.7 0M311.36 324.91a1.35 1.35 0 1 0 2.7 0a1.35 1.35 0 1 0-2.7 0M313.25 323.67a1.35 1.35 0 1 0 2.7 0a1.35 1.35 0 1 0-2.7 0M315.15 322.43a1.35 1.35 0 1 0 2.7 0a1.35 1.35 0 1 0-2.7 0M317.05 321.18a1.35 1.35 0 1 0 2.7 0a1.35 1.35 0 1 0-2.7 0M318.94 319.94a1.35 1.35 0 1 0 2.7 0a1.35 1.35 0 1 0-2.7 0M320.84 318.69a1.35 1.35 0 1 0 2.7 0a1.35 1.35 0 1 0-2.7 0M322.74 317.45a1.35 1.35 0 1 0 2.7 0a1.35 1.35 0 1 0-2.7 0M324.63 316.2a1.35 1.35 0 1 0 2.7 0a1.35 1.35 0 1 0-2.7 0M326.53 314.96a1.35 1.35 0 1 0 2.7 0a1.35 1.35 0 1 0-2.7 0M328.42 313.71a1.35 1.35 0 1 0 2.7 0a1.35 1.35 0 1 0-2.7 0M330.32 312.47a1.35 1.35 0 1 0 2.7 0a1.35 1.35 0 1 0-2.7 0M332.22 311.22a1.35 1.35 0 1 0 2.7 0a1.35 1.35 0 1 0-2.7 0M334.11 309.98a1.35 1.35 0 1 0 2.7 0a1.35 1.35 0 1 0-2.7 0M336.01 308.74a1.35 1.35 0 1 0 2.7 0a1.35 1.35 0 1 0-2.7 0M337.91 307.49a1.35 1.35 0 1 0 2.7 0a1.35 1.35 0 1 0-2.7 0M339.8 306.25a1.35 1.35 0 1 0 2.7 0a1.35 1.35 0 1 0-2.7 0M341.7 305a1.35 1.35 0 1 0 2.7 0a1.35 1.35 0 1 0-2.7 0M343.59 303.76a1.35 1.35 0 1 0 2.7 0a1.35 1.35 0 1 0-2.7 0M345.49 302.51a1.35 1.35 0 1 0 2.7 0a1.35 1.35 0 1 0-2.7 0M347.39 301.27a1.35 1.35 0 1 0 2.7 0a1.35 1.35 0 1 0-2.7 0M349.28 300.02a1.35 1.35 0 1 0 2.7 0a1.35 1.35 0 1 0-2.7 0M351.18 298.78a1.35 1.35 0 1 0 2.7 0a1.35 1.35 0 1 0-2.7 0M353.08 297.53a1.35 1.35 0 1 0 2.7 0a1.35 1.35 0 1 0-2.7 0M354.97 296.29a1.35 1.35 0 1 0 2.7 0a1.35 1.35 0 1 0-2.7 0M356.87 295.04a1.35 1.35 0 1 0 2.7 0a1.35 1.35 0 1 0-2.7 0M358.76 293.8a1.35 1.35 0 1 0 2.7 0a1.35 1.35 0 1 0-2.7 0M360.66 292.56a1.35 1.35 0 1 0 2.7 0a1.35 1.35 0 1 0-2.7 0M362.56 291.31a1.35 1.35 0 1 0 2.7 0a1.35 1.35 0 1 0-2.7 0M364.45 290.07a1.35 1.35 0 1 0 2.7 0a1.35 1.35 0 1 0-2.7 0M366.35 288.82a1.35 1.35 0 1 0 2.7 0a1.35 1.35 0 1 0-2.7 0M368.25 287.58a1.35 1.35 0 1 0 2.7 0a1.35 1.35 0 1 0-2.7 0M370.14 286.33a1.35 1.35 0 1 0 2.7 0a1.35 1.35 0 1 0-2.7 0M372.04 285.09a1.35 1.35 0 1 0 2.7 0a1.35 1.35 0 1 0-2.7 0M377.35 281.6a1.35 1.35 0 1 0 2.7 0a1.35 1.35 0 1 0-2.7 0M378.48 280.86a1.35 1.35 0 1 0 2.7 0a1.35 1.35 0 1 0-2.7 0M379.62 280.11a1.35 1.35 0 1 0 2.7 0a1.35 1.35 0 1 0-2.7 0M380.76 279.36a1.35 1.35 0 1 0 2.7 0a1.35 1.35 0 1 0-2.7 0M383.04 277.87a1.35 1.35 0 1 0 2.7 0a1.35 1.35 0 1 0-2.7 0M384.17 277.12a1.35 1.35 0 1 0 2.7 0a1.35 1.35 0 1 0-2.7 0M385.31 276.38a1.35 1.35 0 1 0 2.7 0a1.35 1.35 0 1 0-2.7 0M387.59 274.88a1.35 1.35 0 1 0 2.7 0a1.35 1.35 0 1 0-2.7 0M388.72 274.14a1.35 1.35 0 1 0 2.7 0a1.35 1.35 0 1 0-2.7 0M391.38 272.39a1.35 1.35 0 1 0 2.7 0a1.35 1.35 0 1 0-2.7 0M392.67 271.55a1.35 1.35 0 1 0 2.7 0a1.35 1.35 0 1 0-2.7 0M398.05 268.01a1.35 1.35 0 1 0 2.7 0a1.35 1.35 0 1 0-2.7 0M399.87 266.82a1.35 1.35 0 1 0 2.7 0a1.35 1.35 0 1 0-2.7 0M404.65 263.68a1.35 1.35 0 1 0 2.7 0a1.35 1.35 0 1 0-2.7 0M406.55 262.44a1.35 1.35 0 1 0 2.7 0a1.35 1.35 0 1 0-2.7 0M410.95 259.55a1.35 1.35 0 1 0 2.7 0a1.35 1.35 0 1 0-2.7 0M417.93 254.97a1.35 1.35 0 1 0 2.7 0a1.35 1.35 0 1 0-2.7 0M419.44 253.97a1.35 1.35 0 1 0 2.7 0a1.35 1.35 0 1 0-2.7 0M420.81 253.08a1.35 1.35 0 1 0 2.7 0a1.35 1.35 0 1 0-2.7 0M443.25 238.35a1.35 1.35 0 1 0 2.7 0a1.35 1.35 0 1 0-2.7 0M374.69 283.35a1.35 1.35 0 1 0 2.7 0a1.35 1.35 0 1 0-2.7 0M375.83 282.6a1.35 1.35 0 1 0 2.7 0a1.35 1.35 0 1 0-2.7 0M355.73 295.79a1.35 1.35 0 1 0 2.7 0a1.35 1.35 0 1 0-2.7 0M356.79 295.09a1.35 1.35 0 1 0 2.7 0a1.35 1.35 0 1 0-2.7 0M357.85 294.4a1.35 1.35 0 1 0 2.7 0a1.35 1.35 0 1 0-2.7 0M358.92 293.7a1.35 1.35 0 1 0 2.7 0a1.35 1.35 0 1 0-2.7 0M359.98 293a1.35 1.35 0 1 0 2.7 0a1.35 1.35 0 1 0-2.7 0M361.04 292.31a1.35 1.35 0 1 0 2.7 0a1.35 1.35 0 1 0-2.7 0M362.1 291.61a1.35 1.35 0 1 0 2.7 0a1.35 1.35 0 1 0-2.7 0M363.16 290.91a1.35 1.35 0 1 0 2.7 0a1.35 1.35 0 1 0-2.7 0M364.23 290.22a1.35 1.35 0 1 0 2.7 0a1.35 1.35 0 1 0-2.7 0M365.29 289.52a1.35 1.35 0 1 0 2.7 0a1.35 1.35 0 1 0-2.7 0M366.35 288.82a1.35 1.35 0 1 0 2.7 0a1.35 1.35 0 1 0-2.7 0M367.41 288.13a1.35 1.35 0 1 0 2.7 0a1.35 1.35 0 1 0-2.7 0M368.47 287.43a1.35 1.35 0 1 0 2.7 0a1.35 1.35 0 1 0-2.7 0M369.53 286.73a1.35 1.35 0 1 0 2.7 0a1.35 1.35 0 1 0-2.7 0M370.6 286.03a1.35 1.35 0 1 0 2.7 0a1.35 1.35 0 1 0-2.7 0M371.66 285.34a1.35 1.35 0 1 0 2.7 0a1.35 1.35 0 1 0-2.7 0M372.72 284.64a1.35 1.35 0 1 0 2.7 0a1.35 1.35 0 1 0-2.7 0" stroke="#2a2ac8" stroke-width=".75" fill="none"/></g>
<g><rect x="502.5" y="215.4" width="177.6" height="154.7" fill="none" stroke="#666" stroke-width="1.15"/><path d="M524.7 370.1v3.6M562.68 370.1v3.6M600.65 370.1v3.6M638.62 370.1v3.6M676.6 370.1v3.6M502.5 355.44h-3.6M502.5 326.31h-3.6M502.5 297.18h-3.6M502.5 268.05h-3.6M502.5 238.92h-3.6" stroke="#666" stroke-width="1" fill="none"/><text transform="translate(524.7 383.5) scale(1.08 1)" class="t th" text-anchor="middle">5</text><text transform="translate(562.68 383.5) scale(1.08 1)" class="t th" text-anchor="middle">10</text><text transform="translate(600.65 383.5) scale(1.08 1)" class="t th" text-anchor="middle">15</text><text transform="translate(638.62 383.5) scale(1.08 1)" class="t th" text-anchor="middle">20</text><text transform="translate(676.6 383.5) scale(1.08 1)" class="t th" text-anchor="middle">25</text><text transform="translate(493.7 355.44) rotate(-90) scale(0.8 1)" class="t" text-anchor="middle">1. 04</text><text transform="translate(493.7 326.31) rotate(-90) scale(0.8 1)" class="t" text-anchor="middle">1. 06</text><text transform="translate(493.7 297.18) rotate(-90) scale(0.8 1)" class="t" text-anchor="middle">1. 08</text><text transform="translate(493.7 268.05) rotate(-90) scale(0.8 1)" class="t" text-anchor="middle">1. 10</text><text transform="translate(493.7 238.92) rotate(-90) scale(0.8 1)" class="t" text-anchor="middle">1. 12</text><text x="603.4" y="397.8" class="ti" text-anchor="middle">Serum α-Klotho/100 (pg/ml)</text><text transform="translate(482.3 299.1) rotate(-90)" class="ti" text-anchor="middle">Total BMD (g/cm<tspan dy="-2.6" font-size="4.6">2</tspan><tspan dy="2.6">)</tspan></text><text x="472" y="223.5" class="L">F</text><line x1="516.35" y1="296.65" x2="603.31" y2="296.01" stroke="#ee0a0a" stroke-width="2.3"/><path d="M507.75 296.7a1.15 1.15 0 1 0 2.3 0a1.15 1.15 0 1 0-2.3 0M510.33 296.68a1.15 1.15 0 1 0 2.3 0a1.15 1.15 0 1 0-2.3 0M511.32 296.67a1.15 1.15 0 1 0 2.3 0a1.15 1.15 0 1 0-2.3 0M515.2 296.65a1.15 1.15 0 1 0 2.3 0a1.15 1.15 0 1 0-2.3 0M517.09 296.63a1.15 1.15 0 1 0 2.3 0a1.15 1.15 0 1 0-2.3 0M518.99 296.62a1.15 1.15 0 1 0 2.3 0a1.15 1.15 0 1 0-2.3 0M520.89 296.6a1.15 1.15 0 1 0 2.3 0a1.15 1.15 0 1 0-2.3 0M522.79 296.59a1.15 1.15 0 1 0 2.3 0a1.15 1.15 0 1 0-2.3 0M524.69 296.58a1.15 1.15 0 1 0 2.3 0a1.15 1.15 0 1 0-2.3 0M526.59 296.56a1.15 1.15 0 1 0 2.3 0a1.15 1.15 0 1 0-2.3 0M528.49 296.55a1.15 1.15 0 1 0 2.3 0a1.15 1.15 0 1 0-2.3 0M530.39 296.53a1.15 1.15 0 1 0 2.3 0a1.15 1.15 0 1 0-2.3 0M532.28 296.52a1.15 1.15 0 1 0 2.3 0a1.15 1.15 0 1 0-2.3 0M534.18 296.51a1.15 1.15 0 1 0 2.3 0a1.15 1.15 0 1 0-2.3 0M536.08 296.49a1.15 1.15 0 1 0 2.3 0a1.15 1.15 0 1 0-2.3 0M537.98 296.48a1.15 1.15 0 1 0 2.3 0a1.15 1.15 0 1 0-2.3 0M539.88 296.46a1.15 1.15 0 1 0 2.3 0a1.15 1.15 0 1 0-2.3 0M541.78 296.45a1.15 1.15 0 1 0 2.3 0a1.15 1.15 0 1 0-2.3 0M543.68 296.44a1.15 1.15 0 1 0 2.3 0a1.15 1.15 0 1 0-2.3 0M545.58 296.42a1.15 1.15 0 1 0 2.3 0a1.15 1.15 0 1 0-2.3 0M547.47 296.41a1.15 1.15 0 1 0 2.3 0a1.15 1.15 0 1 0-2.3 0M549.37 296.4a1.15 1.15 0 1 0 2.3 0a1.15 1.15 0 1 0-2.3 0M551.27 296.38a1.15 1.15 0 1 0 2.3 0a1.15 1.15 0 1 0-2.3 0M553.17 296.37a1.15 1.15 0 1 0 2.3 0a1.15 1.15 0 1 0-2.3 0M555.07 296.35a1.15 1.15 0 1 0 2.3 0a1.15 1.15 0 1 0-2.3 0M556.97 296.34a1.15 1.15 0 1 0 2.3 0a1.15 1.15 0 1 0-2.3 0M558.87 296.33a1.15 1.15 0 1 0 2.3 0a1.15 1.15 0 1 0-2.3 0M560.77 296.31a1.15 1.15 0 1 0 2.3 0a1.15 1.15 0 1 0-2.3 0M562.66 296.3a1.15 1.15 0 1 0 2.3 0a1.15 1.15 0 1 0-2.3 0M564.56 296.28a1.15 1.15 0 1 0 2.3 0a1.15 1.15 0 1 0-2.3 0M566.46 296.27a1.15 1.15 0 1 0 2.3 0a1.15 1.15 0 1 0-2.3 0M568.36 296.26a1.15 1.15 0 1 0 2.3 0a1.15 1.15 0 1 0-2.3 0M570.26 296.24a1.15 1.15 0 1 0 2.3 0a1.15 1.15 0 1 0-2.3 0M572.16 296.23a1.15 1.15 0 1 0 2.3 0a1.15 1.15 0 1 0-2.3 0M574.06 296.21a1.15 1.15 0 1 0 2.3 0a1.15 1.15 0 1 0-2.3 0M575.96 296.2a1.15 1.15 0 1 0 2.3 0a1.15 1.15 0 1 0-2.3 0M577.85 296.19a1.15 1.15 0 1 0 2.3 0a1.15 1.15 0 1 0-2.3 0M579.75 296.17a1.15 1.15 0 1 0 2.3 0a1.15 1.15 0 1 0-2.3 0M581.65 296.16a1.15 1.15 0 1 0 2.3 0a1.15 1.15 0 1 0-2.3 0M583.55 296.15a1.15 1.15 0 1 0 2.3 0a1.15 1.15 0 1 0-2.3 0M585.45 296.13a1.15 1.15 0 1 0 2.3 0a1.15 1.15 0 1 0-2.3 0M587.35 296.12a1.15 1.15 0 1 0 2.3 0a1.15 1.15 0 1 0-2.3 0M589.25 296.1a1.15 1.15 0 1 0 2.3 0a1.15 1.15 0 1 0-2.3 0M591.15 296.09a1.15 1.15 0 1 0 2.3 0a1.15 1.15 0 1 0-2.3 0M593.04 296.08a1.15 1.15 0 1 0 2.3 0a1.15 1.15 0 1 0-2.3 0M594.94 296.06a1.15 1.15 0 1 0 2.3 0a1.15 1.15 0 1 0-2.3 0M596.84 296.05a1.15 1.15 0 1 0 2.3 0a1.15 1.15 0 1 0-2.3 0M598.74 296.03a1.15 1.15 0 1 0 2.3 0a1.15 1.15 0 1 0-2.3 0M600.64 296.02a1.15 1.15 0 1 0 2.3 0a1.15 1.15 0 1 0-2.3 0M605.96 295.98a1.15 1.15 0 1 0 2.3 0a1.15 1.15 0 1 0-2.3 0M607.1 295.97a1.15 1.15 0 1 0 2.3 0a1.15 1.15 0 1 0-2.3 0M608.23 295.96a1.15 1.15 0 1 0 2.3 0a1.15 1.15 0 1 0-2.3 0M609.37 295.96a1.15 1.15 0 1 0 2.3 0a1.15 1.15 0 1 0-2.3 0M611.65 295.94a1.15 1.15 0 1 0 2.3 0a1.15 1.15 0 1 0-2.3 0M612.79 295.93a1.15 1.15 0 1 0 2.3 0a1.15 1.15 0 1 0-2.3 0M613.93 295.92a1.15 1.15 0 1 0 2.3 0a1.15 1.15 0 1 0-2.3 0M616.21 295.91a1.15 1.15 0 1 0 2.3 0a1.15 1.15 0 1 0-2.3 0M617.35 295.9a1.15 1.15 0 1 0 2.3 0a1.15 1.15 0 1 0-2.3 0M620.01 295.88a1.15 1.15 0 1 0 2.3 0a1.15 1.15 0 1 0-2.3 0M621.3 295.87a1.15 1.15 0 1 0 2.3 0a1.15 1.15 0 1 0-2.3 0M626.69 295.83a1.15 1.15 0 1 0 2.3 0a1.15 1.15 0 1 0-2.3 0M628.51 295.82a1.15 1.15 0 1 0 2.3 0a1.15 1.15 0 1 0-2.3 0M633.3 295.78a1.15 1.15 0 1 0 2.3 0a1.15 1.15 0 1 0-2.3 0M635.2 295.77a1.15 1.15 0 1 0 2.3 0a1.15 1.15 0 1 0-2.3 0M639.6 295.74a1.15 1.15 0 1 0 2.3 0a1.15 1.15 0 1 0-2.3 0M646.59 295.68a1.15 1.15 0 1 0 2.3 0a1.15 1.15 0 1 0-2.3 0M648.11 295.67a1.15 1.15 0 1 0 2.3 0a1.15 1.15 0 1 0-2.3 0M649.48 295.66a1.15 1.15 0 1 0 2.3 0a1.15 1.15 0 1 0-2.3 0M671.75 295.5a1.15 1.15 0 1 0 2.3 0a1.15 1.15 0 1 0-2.3 0" fill="#ee0a0a"/><line x1="516.35" y1="279.4" x2="585.46" y2="311.94" stroke="#0000ff" stroke-width="3.4"/><path d="M507.55 275.9a1.35 1.35 0 1 0 2.7 0a1.35 1.35 0 1 0-2.7 0M510.13 277.12a1.35 1.35 0 1 0 2.7 0a1.35 1.35 0 1 0-2.7 0M511.12 277.58a1.35 1.35 0 1 0 2.7 0a1.35 1.35 0 1 0-2.7 0M515 279.4a1.35 1.35 0 1 0 2.7 0a1.35 1.35 0 1 0-2.7 0M516.89 280.3a1.35 1.35 0 1 0 2.7 0a1.35 1.35 0 1 0-2.7 0M518.79 281.19a1.35 1.35 0 1 0 2.7 0a1.35 1.35 0 1 0-2.7 0M520.69 282.09a1.35 1.35 0 1 0 2.7 0a1.35 1.35 0 1 0-2.7 0M522.59 282.98a1.35 1.35 0 1 0 2.7 0a1.35 1.35 0 1 0-2.7 0M524.49 283.87a1.35 1.35 0 1 0 2.7 0a1.35 1.35 0 1 0-2.7 0M526.39 284.77a1.35 1.35 0 1 0 2.7 0a1.35 1.35 0 1 0-2.7 0M528.29 285.66a1.35 1.35 0 1 0 2.7 0a1.35 1.35 0 1 0-2.7 0M530.19 286.56a1.35 1.35 0 1 0 2.7 0a1.35 1.35 0 1 0-2.7 0M532.08 287.45a1.35 1.35 0 1 0 2.7 0a1.35 1.35 0 1 0-2.7 0M533.98 288.34a1.35 1.35 0 1 0 2.7 0a1.35 1.35 0 1 0-2.7 0M535.88 289.24a1.35 1.35 0 1 0 2.7 0a1.35 1.35 0 1 0-2.7 0M537.78 290.13a1.35 1.35 0 1 0 2.7 0a1.35 1.35 0 1 0-2.7 0M539.68 291.02a1.35 1.35 0 1 0 2.7 0a1.35 1.35 0 1 0-2.7 0M541.58 291.92a1.35 1.35 0 1 0 2.7 0a1.35 1.35 0 1 0-2.7 0M543.48 292.81a1.35 1.35 0 1 0 2.7 0a1.35 1.35 0 1 0-2.7 0M545.38 293.71a1.35 1.35 0 1 0 2.7 0a1.35 1.35 0 1 0-2.7 0M547.27 294.6a1.35 1.35 0 1 0 2.7 0a1.35 1.35 0 1 0-2.7 0M549.17 295.49a1.35 1.35 0 1 0 2.7 0a1.35 1.35 0 1 0-2.7 0M551.07 296.39a1.35 1.35 0 1 0 2.7 0a1.35 1.35 0 1 0-2.7 0M552.97 297.28a1.35 1.35 0 1 0 2.7 0a1.35 1.35 0 1 0-2.7 0M554.87 298.17a1.35 1.35 0 1 0 2.7 0a1.35 1.35 0 1 0-2.7 0M556.77 299.07a1.35 1.35 0 1 0 2.7 0a1.35 1.35 0 1 0-2.7 0M558.67 299.96a1.35 1.35 0 1 0 2.7 0a1.35 1.35 0 1 0-2.7 0M560.57 300.86a1.35 1.35 0 1 0 2.7 0a1.35 1.35 0 1 0-2.7 0M562.46 301.75a1.35 1.35 0 1 0 2.7 0a1.35 1.35 0 1 0-2.7 0M564.36 302.64a1.35 1.35 0 1 0 2.7 0a1.35 1.35 0 1 0-2.7 0M566.26 303.54a1.35 1.35 0 1 0 2.7 0a1.35 1.35 0 1 0-2.7 0M568.16 304.43a1.35 1.35 0 1 0 2.7 0a1.35 1.35 0 1 0-2.7 0M570.06 305.33a1.35 1.35 0 1 0 2.7 0a1.35 1.35 0 1 0-2.7 0M571.96 306.22a1.35 1.35 0 1 0 2.7 0a1.35 1.35 0 1 0-2.7 0M573.86 307.11a1.35 1.35 0 1 0 2.7 0a1.35 1.35 0 1 0-2.7 0M575.76 308.01a1.35 1.35 0 1 0 2.7 0a1.35 1.35 0 1 0-2.7 0M577.65 308.9a1.35 1.35 0 1 0 2.7 0a1.35 1.35 0 1 0-2.7 0M579.55 309.79a1.35 1.35 0 1 0 2.7 0a1.35 1.35 0 1 0-2.7 0M581.45 310.69a1.35 1.35 0 1 0 2.7 0a1.35 1.35 0 1 0-2.7 0M583.35 311.58a1.35 1.35 0 1 0 2.7 0a1.35 1.35 0 1 0-2.7 0M585.25 312.48a1.35 1.35 0 1 0 2.7 0a1.35 1.35 0 1 0-2.7 0M587.15 313.37a1.35 1.35 0 1 0 2.7 0a1.35 1.35 0 1 0-2.7 0M589.05 314.26a1.35 1.35 0 1 0 2.7 0a1.35 1.35 0 1 0-2.7 0M590.95 315.16a1.35 1.35 0 1 0 2.7 0a1.35 1.35 0 1 0-2.7 0M592.84 316.05a1.35 1.35 0 1 0 2.7 0a1.35 1.35 0 1 0-2.7 0M594.74 316.94a1.35 1.35 0 1 0 2.7 0a1.35 1.35 0 1 0-2.7 0M596.64 317.84a1.35 1.35 0 1 0 2.7 0a1.35 1.35 0 1 0-2.7 0M598.54 318.73a1.35 1.35 0 1 0 2.7 0a1.35 1.35 0 1 0-2.7 0M600.44 319.63a1.35 1.35 0 1 0 2.7 0a1.35 1.35 0 1 0-2.7 0M605.76 322.13a1.35 1.35 0 1 0 2.7 0a1.35 1.35 0 1 0-2.7 0M606.89 322.66a1.35 1.35 0 1 0 2.7 0a1.35 1.35 0 1 0-2.7 0M608.03 323.2a1.35 1.35 0 1 0 2.7 0a1.35 1.35 0 1 0-2.7 0M609.17 323.74a1.35 1.35 0 1 0 2.7 0a1.35 1.35 0 1 0-2.7 0M611.45 324.81a1.35 1.35 0 1 0 2.7 0a1.35 1.35 0 1 0-2.7 0M612.59 325.35a1.35 1.35 0 1 0 2.7 0a1.35 1.35 0 1 0-2.7 0M613.73 325.88a1.35 1.35 0 1 0 2.7 0a1.35 1.35 0 1 0-2.7 0M616.01 326.96a1.35 1.35 0 1 0 2.7 0a1.35 1.35 0 1 0-2.7 0M617.15 327.49a1.35 1.35 0 1 0 2.7 0a1.35 1.35 0 1 0-2.7 0M619.81 328.74a1.35 1.35 0 1 0 2.7 0a1.35 1.35 0 1 0-2.7 0M621.1 329.35a1.35 1.35 0 1 0 2.7 0a1.35 1.35 0 1 0-2.7 0M626.49 331.89a1.35 1.35 0 1 0 2.7 0a1.35 1.35 0 1 0-2.7 0M628.31 332.75a1.35 1.35 0 1 0 2.7 0a1.35 1.35 0 1 0-2.7 0M633.1 335a1.35 1.35 0 1 0 2.7 0a1.35 1.35 0 1 0-2.7 0M635 335.89a1.35 1.35 0 1 0 2.7 0a1.35 1.35 0 1 0-2.7 0M639.4 337.97a1.35 1.35 0 1 0 2.7 0a1.35 1.35 0 1 0-2.7 0M646.39 341.26a1.35 1.35 0 1 0 2.7 0a1.35 1.35 0 1 0-2.7 0M647.91 341.97a1.35 1.35 0 1 0 2.7 0a1.35 1.35 0 1 0-2.7 0M649.28 342.61a1.35 1.35 0 1 0 2.7 0a1.35 1.35 0 1 0-2.7 0M671.55 353.1a1.35 1.35 0 1 0 2.7 0a1.35 1.35 0 1 0-2.7 0M603.1 320.88a1.35 1.35 0 1 0 2.7 0a1.35 1.35 0 1 0-2.7 0M604.24 321.41a1.35 1.35 0 1 0 2.7 0a1.35 1.35 0 1 0-2.7 0M584.11 311.94a1.35 1.35 0 1 0 2.7 0a1.35 1.35 0 1 0-2.7 0M585.17 312.44a1.35 1.35 0 1 0 2.7 0a1.35 1.35 0 1 0-2.7 0M586.24 312.94a1.35 1.35 0 1 0 2.7 0a1.35 1.35 0 1 0-2.7 0M587.3 313.44a1.35 1.35 0 1 0 2.7 0a1.35 1.35 0 1 0-2.7 0M588.36 313.94a1.35 1.35 0 1 0 2.7 0a1.35 1.35 0 1 0-2.7 0M589.43 314.44a1.35 1.35 0 1 0 2.7 0a1.35 1.35 0 1 0-2.7 0M590.49 314.94a1.35 1.35 0 1 0 2.7 0a1.35 1.35 0 1 0-2.7 0M591.55 315.44a1.35 1.35 0 1 0 2.7 0a1.35 1.35 0 1 0-2.7 0M592.62 315.94a1.35 1.35 0 1 0 2.7 0a1.35 1.35 0 1 0-2.7 0M593.68 316.44a1.35 1.35 0 1 0 2.7 0a1.35 1.35 0 1 0-2.7 0M594.74 316.94a1.35 1.35 0 1 0 2.7 0a1.35 1.35 0 1 0-2.7 0M595.81 317.45a1.35 1.35 0 1 0 2.7 0a1.35 1.35 0 1 0-2.7 0M596.87 317.95a1.35 1.35 0 1 0 2.7 0a1.35 1.35 0 1 0-2.7 0M597.93 318.45a1.35 1.35 0 1 0 2.7 0a1.35 1.35 0 1 0-2.7 0M599 318.95a1.35 1.35 0 1 0 2.7 0a1.35 1.35 0 1 0-2.7 0M600.06 319.45a1.35 1.35 0 1 0 2.7 0a1.35 1.35 0 1 0-2.7 0M601.12 319.95a1.35 1.35 0 1 0 2.7 0a1.35 1.35 0 1 0-2.7 0" stroke="#2a2ac8" stroke-width=".75" fill="none"/><line x1="516.35" y1="314.48" x2="585.46" y2="280.89" stroke="#0000ff" stroke-width="3.4"/><path d="M507.55 318.1a1.35 1.35 0 1 0 2.7 0a1.35 1.35 0 1 0-2.7 0M510.13 316.84a1.35 1.35 0 1 0 2.7 0a1.35 1.35 0 1 0-2.7 0M511.12 316.36a1.35 1.35 0 1 0 2.7 0a1.35 1.35 0 1 0-2.7 0M515 314.48a1.35 1.35 0 1 0 2.7 0a1.35 1.35 0 1 0-2.7 0M516.89 313.56a1.35 1.35 0 1 0 2.7 0a1.35 1.35 0 1 0-2.7 0M518.79 312.64a1.35 1.35 0 1 0 2.7 0a1.35 1.35 0 1 0-2.7 0M520.69 311.71a1.35 1.35 0 1 0 2.7 0a1.35 1.35 0 1 0-2.7 0M522.59 310.79a1.35 1.35 0 1 0 2.7 0a1.35 1.35 0 1 0-2.7 0M524.49 309.87a1.35 1.35 0 1 0 2.7 0a1.35 1.35 0 1 0-2.7 0M526.39 308.95a1.35 1.35 0 1 0 2.7 0a1.35 1.35 0 1 0-2.7 0M528.29 308.02a1.35 1.35 0 1 0 2.7 0a1.35 1.35 0 1 0-2.7 0M530.19 307.1a1.35 1.35 0 1 0 2.7 0a1.35 1.35 0 1 0-2.7 0M532.08 306.18a1.35 1.35 0 1 0 2.7 0a1.35 1.35 0 1 0-2.7 0M533.98 305.25a1.35 1.35 0 1 0 2.7 0a1.35 1.35 0 1 0-2.7 0M535.88 304.33a1.35 1.35 0 1 0 2.7 0a1.35 1.35 0 1 0-2.7 0M537.78 303.41a1.35 1.35 0 1 0 2.7 0a1.35 1.35 0 1 0-2.7 0M539.68 302.49a1.35 1.35 0 1 0 2.7 0a1.35 1.35 0 1 0-2.7 0M541.58 301.56a1.35 1.35 0 1 0 2.7 0a1.35 1.35 0 1 0-2.7 0M543.48 300.64a1.35 1.35 0 1 0 2.7 0a1.35 1.35 0 1 0-2.7 0M545.38 299.72a1.35 1.35 0 1 0 2.7 0a1.35 1.35 0 1 0-2.7 0M547.27 298.79a1.35 1.35 0 1 0 2.7 0a1.35 1.35 0 1 0-2.7 0M549.17 297.87a1.35 1.35 0 1 0 2.7 0a1.35 1.35 0 1 0-2.7 0M551.07 296.95a1.35 1.35 0 1 0 2.7 0a1.35 1.35 0 1 0-2.7 0M552.97 296.03a1.35 1.35 0 1 0 2.7 0a1.35 1.35 0 1 0-2.7 0M554.87 295.1a1.35 1.35 0 1 0 2.7 0a1.35 1.35 0 1 0-2.7 0M556.77 294.18a1.35 1.35 0 1 0 2.7 0a1.35 1.35 0 1 0-2.7 0M558.67 293.26a1.35 1.35 0 1 0 2.7 0a1.35 1.35 0 1 0-2.7 0M560.57 292.34a1.35 1.35 0 1 0 2.7 0a1.35 1.35 0 1 0-2.7 0M562.46 291.41a1.35 1.35 0 1 0 2.7 0a1.35 1.35 0 1 0-2.7 0M564.36 290.49a1.35 1.35 0 1 0 2.7 0a1.35 1.35 0 1 0-2.7 0M566.26 289.57a1.35 1.35 0 1 0 2.7 0a1.35 1.35 0 1 0-2.7 0M568.16 288.64a1.35 1.35 0 1 0 2.7 0a1.35 1.35 0 1 0-2.7 0M570.06 287.72a1.35 1.35 0 1 0 2.7 0a1.35 1.35 0 1 0-2.7 0M571.96 286.8a1.35 1.35 0 1 0 2.7 0a1.35 1.35 0 1 0-2.7 0M573.86 285.88a1.35 1.35 0 1 0 2.7 0a1.35 1.35 0 1 0-2.7 0M575.76 284.95a1.35 1.35 0 1 0 2.7 0a1.35 1.35 0 1 0-2.7 0M577.65 284.03a1.35 1.35 0 1 0 2.7 0a1.35 1.35 0 1 0-2.7 0M579.55 283.11a1.35 1.35 0 1 0 2.7 0a1.35 1.35 0 1 0-2.7 0M581.45 282.19a1.35 1.35 0 1 0 2.7 0a1.35 1.35 0 1 0-2.7 0M583.35 281.26a1.35 1.35 0 1 0 2.7 0a1.35 1.35 0 1 0-2.7 0M585.25 280.34a1.35 1.35 0 1 0 2.7 0a1.35 1.35 0 1 0-2.7 0M587.15 279.42a1.35 1.35 0 1 0 2.7 0a1.35 1.35 0 1 0-2.7 0M589.05 278.49a1.35 1.35 0 1 0 2.7 0a1.35 1.35 0 1 0-2.7 0M590.95 277.57a1.35 1.35 0 1 0 2.7 0a1.35 1.35 0 1 0-2.7 0M592.84 276.65a1.35 1.35 0 1 0 2.7 0a1.35 1.35 0 1 0-2.7 0M594.74 275.73a1.35 1.35 0 1 0 2.7 0a1.35 1.35 0 1 0-2.7 0M596.64 274.8a1.35 1.35 0 1 0 2.7 0a1.35 1.35 0 1 0-2.7 0M598.54 273.88a1.35 1.35 0 1 0 2.7 0a1.35 1.35 0 1 0-2.7 0M600.44 272.96a1.35 1.35 0 1 0 2.7 0a1.35 1.35 0 1 0-2.7 0M605.76 270.37a1.35 1.35 0 1 0 2.7 0a1.35 1.35 0 1 0-2.7 0M606.89 269.82a1.35 1.35 0 1 0 2.7 0a1.35 1.35 0 1 0-2.7 0M608.03 269.27a1.35 1.35 0 1 0 2.7 0a1.35 1.35 0 1 0-2.7 0M609.17 268.71a1.35 1.35 0 1 0 2.7 0a1.35 1.35 0 1 0-2.7 0M611.45 267.61a1.35 1.35 0 1 0 2.7 0a1.35 1.35 0 1 0-2.7 0M612.59 267.05a1.35 1.35 0 1 0 2.7 0a1.35 1.35 0 1 0-2.7 0M613.73 266.5a1.35 1.35 0 1 0 2.7 0a1.35 1.35 0 1 0-2.7 0M616.01 265.39a1.35 1.35 0 1 0 2.7 0a1.35 1.35 0 1 0-2.7 0M617.15 264.84a1.35 1.35 0 1 0 2.7 0a1.35 1.35 0 1 0-2.7 0M619.81 263.55a1.35 1.35 0 1 0 2.7 0a1.35 1.35 0 1 0-2.7 0M621.1 262.92a1.35 1.35 0 1 0 2.7 0a1.35 1.35 0 1 0-2.7 0M626.49 260.3a1.35 1.35 0 1 0 2.7 0a1.35 1.35 0 1 0-2.7 0M628.31 259.41a1.35 1.35 0 1 0 2.7 0a1.35 1.35 0 1 0-2.7 0M633.1 257.09a1.35 1.35 0 1 0 2.7 0a1.35 1.35 0 1 0-2.7 0M635 256.16a1.35 1.35 0 1 0 2.7 0a1.35 1.35 0 1 0-2.7 0M639.4 254.02a1.35 1.35 0 1 0 2.7 0a1.35 1.35 0 1 0-2.7 0M646.39 250.63a1.35 1.35 0 1 0 2.7 0a1.35 1.35 0 1 0-2.7 0M647.91 249.89a1.35 1.35 0 1 0 2.7 0a1.35 1.35 0 1 0-2.7 0M649.28 249.23a1.35 1.35 0 1 0 2.7 0a1.35 1.35 0 1 0-2.7 0M671.55 238.4a1.35 1.35 0 1 0 2.7 0a1.35 1.35 0 1 0-2.7 0M603.1 271.67a1.35 1.35 0 1 0 2.7 0a1.35 1.35 0 1 0-2.7 0M604.24 271.11a1.35 1.35 0 1 0 2.7 0a1.35 1.35 0 1 0-2.7 0M584.11 280.89a1.35 1.35 0 1 0 2.7 0a1.35 1.35 0 1 0-2.7 0M585.17 280.38a1.35 1.35 0 1 0 2.7 0a1.35 1.35 0 1 0-2.7 0M586.24 279.86a1.35 1.35 0 1 0 2.7 0a1.35 1.35 0 1 0-2.7 0M587.3 279.34a1.35 1.35 0 1 0 2.7 0a1.35 1.35 0 1 0-2.7 0M588.36 278.83a1.35 1.35 0 1 0 2.7 0a1.35 1.35 0 1 0-2.7 0M589.43 278.31a1.35 1.35 0 1 0 2.7 0a1.35 1.35 0 1 0-2.7 0M590.49 277.79a1.35 1.35 0 1 0 2.7 0a1.35 1.35 0 1 0-2.7 0M591.55 277.28a1.35 1.35 0 1 0 2.7 0a1.35 1.35 0 1 0-2.7 0M592.62 276.76a1.35 1.35 0 1 0 2.7 0a1.35 1.35 0 1 0-2.7 0M593.68 276.24a1.35 1.35 0 1 0 2.7 0a1.35 1.35 0 1 0-2.7 0M594.74 275.73a1.35 1.35 0 1 0 2.7 0a1.35 1.35 0 1 0-2.7 0M595.81 275.21a1.35 1.35 0 1 0 2.7 0a1.35 1.35 0 1 0-2.7 0M596.87 274.69a1.35 1.35 0 1 0 2.7 0a1.35 1.35 0 1 0-2.7 0M597.93 274.18a1.35 1.35 0 1 0 2.7 0a1.35 1.35 0 1 0-2.7 0M599 273.66a1.35 1.35 0 1 0 2.7 0a1.35 1.35 0 1 0-2.7 0M600.06 273.14a1.35 1.35 0 1 0 2.7 0a1.35 1.35 0 1 0-2.7 0M601.12 272.63a1.35 1.35 0 1 0 2.7 0a1.35 1.35 0 1 0-2.7 0" stroke="#2a2ac8" stroke-width=".75" fill="none"/></g>
</svg></body></html>
